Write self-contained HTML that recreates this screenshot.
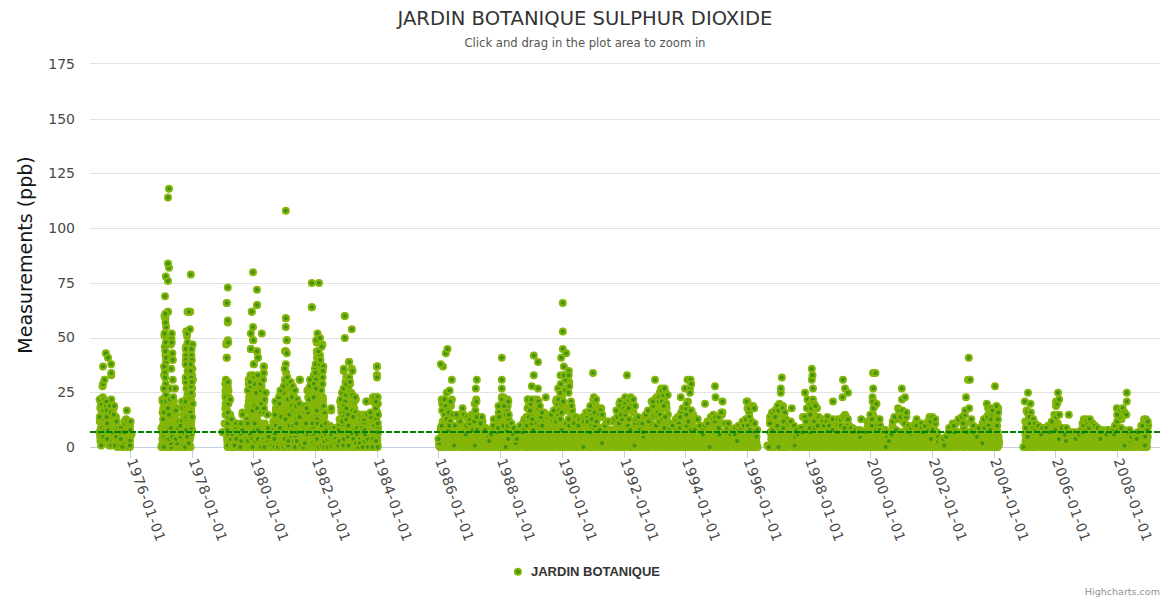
<!DOCTYPE html>
<html lang="en"><head><meta charset="utf-8"><title>JARDIN BOTANIQUE SULPHUR DIOXIDE</title>
<style>html,body{margin:0;padding:0;background:#fff}body{width:1170px;height:600px;overflow:hidden}svg{display:block}text{font-family:'DejaVu Sans','Liberation Sans',sans-serif}</style></head><body>
<svg width="1170" height="600" viewBox="0 0 1170 600">
<rect width="1170" height="600" fill="#fff"/>
<g stroke="#E2E2E2" stroke-width="1" shape-rendering="crispEdges">
<path d="M90 63.5H1160"/>
<path d="M90 119.5H1160"/>
<path d="M90 173.5H1160"/>
<path d="M90 228.5H1160"/>
<path d="M90 283.5H1160"/>
<path d="M90 338.5H1160"/>
<path d="M90 392.5H1160"/>
</g>
<g stroke="#C0D0E0" stroke-width="1" shape-rendering="crispEdges">
<path d="M90 447.5H1160"/>
<path d="M130.5 447.5V457.5"/>
<path d="M192.5 447.5V457.5"/>
<path d="M253.5 447.5V457.5"/>
<path d="M315.5 447.5V457.5"/>
<path d="M377.5 447.5V457.5"/>
<path d="M438.5 447.5V457.5"/>
<path d="M500.5 447.5V457.5"/>
<path d="M562.5 447.5V457.5"/>
<path d="M624.5 447.5V457.5"/>
<path d="M685.5 447.5V457.5"/>
<path d="M747.5 447.5V457.5"/>
<path d="M809.5 447.5V457.5"/>
<path d="M870.5 447.5V457.5"/>
<path d="M932.5 447.5V457.5"/>
<path d="M994.5 447.5V457.5"/>
<path d="M1055.5 447.5V457.5"/>
<path d="M1117.5 447.5V457.5"/>
</g>
<g fill="#3f9214" stroke="#84b509" stroke-width="2">
<path d="M99.8 421.4h0M100.6 430.1h0M101.3 414.8h0M100.1 436.7h0M100.4 441.1h0M103.5 423.6h0M102.7 441.1h0M100.3 408.2h0M100.8 428.0h0M105.9 412.6h0M106.6 441.1h0M102.5 417.0h0M105.3 434.5h0M103.0 438.9h0M106.1 441.1h0M104.8 438.9h0M106.6 434.5h0M110.4 434.5h0M106.1 423.6h0M110.2 438.9h0M110.3 419.2h0M112.4 417.0h0M108.7 443.3h0M109.1 425.8h0M113.2 441.1h0M109.2 417.0h0M113.7 408.2h0M111.3 441.1h0M110.3 423.6h0M110.8 430.1h0M114.4 438.9h0M115.2 436.7h0M112.7 434.5h0M111.8 436.7h0M112.0 428.0h0M113.6 443.3h0M113.0 438.9h0M114.1 421.4h0M112.6 423.6h0M112.3 412.6h0M117.3 441.1h0M115.2 434.5h0M114.2 432.3h0M118.1 436.7h0M116.0 443.3h0M119.3 441.1h0M117.5 446.9h0M116.8 432.3h0M118.3 446.9h0M120.1 434.5h0M117.4 445.5h0M123.0 441.1h0M121.2 443.3h0M122.8 436.7h0M119.5 434.5h0M123.6 428.0h0M125.2 438.9h0M123.5 432.3h0M121.1 436.7h0M128.1 432.3h0M123.0 434.5h0M126.2 443.3h0M126.1 434.5h0M129.8 438.9h0M128.0 423.6h0M126.8 425.8h0M128.8 438.9h0M128.8 425.8h0M129.2 434.5h0M129.4 436.7h0M127.8 445.5h0M131.5 434.5h0M128.4 441.1h0M129.8 446.9h0M161.7 445.5h0M162.3 432.3h0M162.8 425.8h0M162.9 434.5h0M164.1 441.1h0M163.3 408.2h0M164.8 430.1h0M162.7 443.3h0M163.5 443.3h0M165.1 419.2h0M161.5 428.0h0M165.9 419.2h0M165.1 406.0h0M162.4 438.9h0M165.0 423.6h0M163.6 432.3h0M164.6 399.4h0M168.8 419.2h0M167.1 430.1h0M168.7 432.3h0M167.2 446.9h0M164.3 421.4h0M170.0 446.9h0M166.1 445.5h0M168.6 436.7h0M166.4 434.5h0M166.3 425.8h0M171.4 432.3h0M167.7 443.3h0M167.8 414.8h0M168.7 425.8h0M171.8 419.2h0M171.6 423.6h0M171.4 406.0h0M170.7 425.8h0M173.7 443.3h0M171.3 438.9h0M174.8 432.3h0M172.9 410.4h0M173.8 406.0h0M175.1 446.9h0M174.4 421.4h0M172.9 425.8h0M175.5 434.5h0M174.4 446.9h0M173.9 401.6h0M174.3 428.0h0M175.1 441.1h0M172.0 412.6h0M177.4 436.7h0M172.8 436.7h0M176.2 436.7h0M177.7 443.3h0M175.5 421.4h0M177.8 445.5h0M174.1 414.8h0M175.6 414.8h0M174.7 441.1h0M175.0 423.6h0M177.1 430.1h0M180.3 446.9h0M177.7 438.9h0M182.8 432.3h0M177.5 446.9h0M183.5 414.8h0M183.2 441.1h0M181.5 441.1h0M181.7 445.5h0M183.5 436.7h0M182.0 423.6h0M182.5 421.4h0M182.7 446.9h0M182.3 428.0h0M186.7 423.6h0M185.2 438.9h0M185.7 430.1h0M187.3 430.1h0M185.0 445.5h0M188.3 417.0h0M188.6 445.5h0M185.9 412.6h0M187.1 428.0h0M190.1 438.9h0M187.2 443.3h0M185.2 421.4h0M185.5 441.1h0M187.0 446.9h0M189.5 417.0h0M189.6 436.7h0M186.9 434.5h0M190.5 446.9h0M190.5 432.3h0M189.8 445.5h0M190.2 412.6h0M225.2 384.1h0M225.5 390.6h0M222.7 432.3h0M224.6 423.6h0M225.3 408.2h0M227.5 443.3h0M227.1 438.9h0M228.5 390.6h0M226.1 386.3h0M227.1 410.4h0M227.3 441.1h0M227.1 436.7h0M225.6 395.0h0M225.6 403.8h0M227.7 446.9h0M230.8 445.5h0M230.5 425.8h0M230.9 421.4h0M227.8 386.3h0M229.8 443.3h0M230.6 434.5h0M232.7 421.4h0M231.0 446.9h0M230.3 414.8h0M232.3 443.3h0M233.2 428.0h0M232.8 438.9h0M235.0 434.5h0M237.0 446.9h0M235.9 441.1h0M239.3 443.3h0M239.9 445.5h0M237.1 443.3h0M240.8 445.5h0M239.2 441.1h0M238.0 434.5h0M239.9 438.9h0M240.3 434.5h0M243.0 432.3h0M245.6 434.5h0M242.7 446.9h0M242.3 432.3h0M243.6 438.9h0M247.4 445.5h0M245.8 430.1h0M243.3 445.5h0M244.1 443.3h0M245.8 446.9h0M245.0 446.9h0M246.4 443.3h0M245.1 436.7h0M248.7 443.3h0M248.2 406.0h0M250.1 436.7h0M247.3 432.3h0M248.7 384.1h0M250.9 432.3h0M248.5 410.4h0M248.8 401.6h0M248.7 446.9h0M249.1 397.2h0M249.9 421.4h0M248.0 445.5h0M248.5 436.7h0M250.2 428.0h0M250.5 446.9h0M250.5 417.0h0M248.8 425.8h0M250.2 410.4h0M252.9 414.8h0M249.1 432.3h0M250.9 392.8h0M251.1 438.9h0M253.5 421.4h0M250.5 403.8h0M253.1 436.7h0M249.7 381.9h0M251.7 397.2h0M252.5 430.1h0M253.8 434.5h0M251.4 443.3h0M254.5 397.2h0M252.4 395.0h0M252.4 428.0h0M253.2 377.5h0M255.7 436.7h0M255.7 417.0h0M252.9 445.5h0M254.2 388.5h0M255.1 445.5h0M258.1 434.5h0M254.9 401.6h0M252.9 441.1h0M255.7 428.0h0M257.6 443.3h0M257.7 395.0h0M254.1 406.0h0M257.2 401.6h0M258.7 446.9h0M256.9 423.6h0M257.2 419.2h0M256.5 432.3h0M255.6 446.9h0M257.2 436.7h0M258.7 384.1h0M259.4 443.3h0M261.7 436.7h0M260.3 436.7h0M261.1 430.1h0M257.0 414.8h0M261.1 423.6h0M259.6 428.0h0M261.8 397.2h0M259.5 397.2h0M259.7 401.6h0M261.0 406.0h0M263.5 445.5h0M262.1 430.1h0M264.8 423.6h0M260.0 438.9h0M261.8 412.6h0M261.3 401.6h0M264.1 401.6h0M262.4 410.4h0M264.4 434.5h0M262.2 432.3h0M264.8 432.3h0M267.4 446.9h0M263.4 425.8h0M266.9 443.3h0M264.8 428.0h0M267.6 432.3h0M271.2 441.1h0M271.0 446.9h0M266.7 441.1h0M270.4 432.3h0M268.5 446.9h0M273.3 421.4h0M273.6 425.8h0M274.6 432.3h0M271.8 436.7h0M275.6 430.1h0M271.8 432.3h0M273.2 443.3h0M278.1 414.8h0M276.4 412.6h0M275.9 436.7h0M275.5 443.3h0M275.9 408.2h0M276.8 446.9h0M275.9 410.4h0M278.1 441.1h0M275.6 417.0h0M278.5 432.3h0M279.5 410.4h0M276.9 434.5h0M279.4 434.5h0M275.7 421.4h0M281.3 438.9h0M281.8 395.0h0M280.9 421.4h0M281.4 434.5h0M282.9 423.6h0M283.3 401.6h0M282.9 412.6h0M279.0 443.3h0M280.2 406.0h0M279.5 438.9h0M284.2 395.0h0M279.8 410.4h0M279.6 425.8h0M285.1 446.9h0M284.2 408.2h0M283.0 434.5h0M282.1 438.9h0M281.4 432.3h0M280.8 399.4h0M282.7 403.8h0M285.2 436.7h0M284.8 388.5h0M281.4 446.9h0M281.9 441.1h0M284.6 423.6h0M284.0 443.3h0M285.2 412.6h0M284.7 428.0h0M286.5 399.4h0M284.1 417.0h0M287.9 419.2h0M286.1 432.3h0M286.5 406.0h0M285.1 430.1h0M284.6 392.8h0M286.1 443.3h0M286.9 425.8h0M285.2 384.1h0M286.1 373.1h0M289.3 432.3h0M287.2 438.9h0M291.1 438.9h0M291.8 401.6h0M292.7 392.8h0M288.4 412.6h0M287.8 432.3h0M287.5 406.0h0M289.1 421.4h0M290.5 408.2h0M290.3 390.6h0M288.1 390.6h0M293.2 445.5h0M288.6 436.7h0M289.9 443.3h0M289.9 403.8h0M291.5 436.7h0M293.9 432.3h0M294.1 397.2h0M293.3 446.9h0M294.8 430.1h0M292.2 441.1h0M292.1 390.6h0M293.1 414.8h0M295.5 419.2h0M292.4 419.2h0M298.2 421.4h0M294.9 412.6h0M293.7 443.3h0M294.2 425.8h0M296.4 446.9h0M299.4 425.8h0M300.3 446.9h0M300.1 438.9h0M301.0 428.0h0M300.2 443.3h0M297.5 412.6h0M296.5 438.9h0M299.4 432.3h0M300.6 432.3h0M300.9 441.1h0M299.4 410.4h0M303.8 438.9h0M304.3 436.7h0M301.5 436.7h0M305.8 446.9h0M302.6 446.9h0M301.6 423.6h0M304.1 419.2h0M301.8 419.2h0M305.3 438.9h0M303.2 430.1h0M306.7 436.7h0M307.8 406.0h0M306.7 430.1h0M309.2 441.1h0M308.2 432.3h0M307.8 419.2h0M305.7 419.2h0M309.2 436.7h0M306.2 428.0h0M306.1 414.8h0M307.6 423.6h0M308.2 397.2h0M306.9 445.5h0M310.4 417.0h0M310.4 401.6h0M311.6 423.6h0M310.5 410.4h0M307.1 434.5h0M311.7 436.7h0M312.7 446.9h0M308.6 445.5h0M307.4 430.1h0M311.3 438.9h0M308.9 446.9h0M313.3 417.0h0M311.2 406.0h0M309.3 438.9h0M314.5 377.5h0M313.9 399.4h0M311.3 395.0h0M312.1 386.3h0M314.4 432.3h0M312.0 408.2h0M314.4 438.9h0M310.8 446.9h0M314.8 408.2h0M314.9 403.8h0M313.3 379.7h0M313.1 392.8h0M312.3 412.6h0M315.5 423.6h0M317.5 364.3h0M314.1 438.9h0M312.4 406.0h0M315.6 395.0h0M318.1 370.9h0M317.5 432.3h0M313.7 434.5h0M316.7 412.6h0M317.4 375.3h0M318.0 379.7h0M318.1 428.0h0M319.7 417.0h0M319.1 392.8h0M314.8 446.9h0M317.8 406.0h0M317.7 392.8h0M320.2 401.6h0M316.7 399.4h0M319.6 432.3h0M315.5 401.6h0M315.3 412.6h0M319.6 368.7h0M315.9 430.1h0M317.0 357.7h0M320.2 377.5h0M318.1 443.3h0M320.4 423.6h0M316.6 388.5h0M320.8 438.9h0M323.0 414.8h0M319.4 388.5h0M323.9 421.4h0M320.5 430.1h0M319.3 395.0h0M322.6 419.2h0M319.3 445.5h0M319.7 443.3h0M324.3 443.3h0M320.8 384.1h0M322.9 432.3h0M320.4 428.0h0M323.1 399.4h0M324.2 438.9h0M326.3 445.5h0M325.2 434.5h0M322.8 446.9h0M324.2 417.0h0M322.8 397.2h0M322.9 441.1h0M323.8 445.5h0M327.6 443.3h0M324.7 436.7h0M330.0 441.1h0M328.6 443.3h0M328.6 446.9h0M333.5 438.9h0M331.9 446.9h0M329.6 428.0h0M331.5 441.1h0M334.6 446.9h0M332.0 438.9h0M334.0 434.5h0M339.6 419.2h0M335.7 446.9h0M339.3 436.7h0M336.5 434.5h0M340.2 434.5h0M338.9 446.9h0M339.9 425.8h0M342.2 436.7h0M338.1 434.5h0M340.9 406.0h0M342.6 403.8h0M342.0 441.1h0M345.0 445.5h0M343.7 397.2h0M341.0 432.3h0M341.6 446.9h0M341.5 445.5h0M340.4 441.1h0M341.2 410.4h0M345.7 421.4h0M346.2 446.9h0M344.5 436.7h0M341.5 438.9h0M345.5 432.3h0M347.5 446.9h0M344.0 430.1h0M348.4 438.9h0M347.3 379.7h0M349.3 399.4h0M344.4 438.9h0M348.2 443.3h0M347.6 408.2h0M346.3 425.8h0M351.3 399.4h0M347.3 397.2h0M349.1 419.2h0M350.2 432.3h0M350.0 446.9h0M350.9 421.4h0M351.9 443.3h0M349.0 445.5h0M349.0 425.8h0M348.2 421.4h0M352.8 406.0h0M354.0 410.4h0M350.0 384.1h0M350.7 417.0h0M351.7 421.4h0M353.0 428.0h0M350.0 406.0h0M354.7 436.7h0M351.5 425.8h0M351.7 446.9h0M351.9 430.1h0M349.6 423.6h0M354.2 408.2h0M350.7 410.4h0M353.8 446.9h0M354.7 443.3h0M354.1 434.5h0M353.1 432.3h0M357.8 414.8h0M356.3 432.3h0M354.1 423.6h0M353.4 419.2h0M359.1 421.4h0M355.9 446.9h0M356.7 421.4h0M359.3 425.8h0M358.6 432.3h0M361.7 423.6h0M362.6 443.3h0M357.3 438.9h0M360.3 441.1h0M362.0 445.5h0M360.4 438.9h0M362.2 446.9h0M364.7 434.5h0M365.3 443.3h0M362.1 436.7h0M366.4 441.1h0M365.4 446.9h0M367.2 432.3h0M368.6 443.3h0M366.2 425.8h0M365.7 445.5h0M365.6 430.1h0M370.3 446.9h0M368.9 436.7h0M370.7 441.1h0M372.7 428.0h0M368.3 425.8h0M371.1 434.5h0M371.0 436.7h0M372.5 414.8h0M369.9 423.6h0M372.9 443.3h0M374.4 445.5h0M374.5 441.1h0M370.7 445.5h0M370.8 430.1h0M371.5 425.8h0M372.9 432.3h0M372.0 436.7h0M374.8 421.4h0M377.0 446.9h0M377.7 445.5h0M375.6 417.0h0M377.3 436.7h0M374.7 446.9h0M377.4 441.1h0M373.7 421.4h0M376.0 406.0h0M374.4 438.9h0M377.5 434.5h0M439.2 445.5h0M440.8 446.9h0M440.7 430.1h0M441.4 443.3h0M440.8 428.0h0M439.7 446.9h0M441.8 438.9h0M441.1 436.7h0M442.5 441.1h0M443.4 436.7h0M445.0 430.1h0M443.2 434.5h0M445.5 446.9h0M442.7 421.4h0M443.4 441.1h0M445.6 412.6h0M445.4 428.0h0M445.5 443.3h0M444.3 446.9h0M442.8 432.3h0M444.9 438.9h0M445.4 436.7h0M447.3 441.1h0M446.1 430.1h0M443.4 445.5h0M449.4 446.9h0M445.1 428.0h0M449.1 434.5h0M449.7 438.9h0M447.1 434.5h0M450.9 406.0h0M453.2 441.1h0M452.7 446.9h0M450.2 436.7h0M448.9 445.5h0M450.3 430.1h0M451.8 441.1h0M449.7 441.1h0M454.5 446.9h0M450.3 443.3h0M455.0 438.9h0M451.4 446.9h0M450.7 403.8h0M452.9 432.3h0M456.1 441.1h0M451.6 432.3h0M452.4 436.7h0M457.2 428.0h0M455.5 432.3h0M452.8 438.9h0M458.4 445.5h0M456.4 445.5h0M459.7 423.6h0M459.6 441.1h0M457.3 434.5h0M460.5 446.9h0M456.0 436.7h0M457.6 443.3h0M459.0 446.9h0M456.8 438.9h0M460.7 430.1h0M462.9 430.1h0M460.9 436.7h0M458.7 432.3h0M462.5 438.9h0M464.0 446.9h0M460.8 445.5h0M464.0 441.1h0M463.7 432.3h0M460.3 434.5h0M465.5 425.8h0M467.0 434.5h0M465.4 445.5h0M462.8 446.9h0M464.3 438.9h0M463.6 434.5h0M463.2 443.3h0M467.9 419.2h0M467.0 446.9h0M469.4 438.9h0M467.2 441.1h0M466.0 445.5h0M467.1 438.9h0M471.7 432.3h0M470.5 434.5h0M467.1 432.3h0M469.7 445.5h0M470.3 430.1h0M473.8 441.1h0M468.4 443.3h0M474.4 438.9h0M471.3 446.9h0M473.6 446.9h0M470.2 446.9h0M474.9 443.3h0M471.3 443.3h0M471.7 434.5h0M475.2 432.3h0M475.4 446.9h0M472.0 438.9h0M475.6 438.9h0M474.3 434.5h0M474.8 428.0h0M475.7 436.7h0M477.1 445.5h0M478.1 445.5h0M478.8 428.0h0M479.6 430.1h0M480.4 436.7h0M479.2 441.1h0M479.6 434.5h0M476.9 441.1h0M480.3 430.1h0M479.6 436.7h0M478.2 446.9h0M480.1 446.9h0M478.5 432.3h0M479.3 438.9h0M484.1 428.0h0M481.3 434.5h0M483.8 443.3h0M481.8 438.9h0M484.9 446.9h0M483.1 436.7h0M481.5 443.3h0M482.3 446.9h0M483.4 432.3h0M482.7 438.9h0M486.8 446.9h0M486.1 443.3h0M486.2 434.5h0M485.7 438.9h0M490.3 443.3h0M487.8 443.3h0M493.8 441.1h0M489.3 446.9h0M493.4 441.1h0M492.2 443.3h0M492.5 438.9h0M494.7 445.5h0M493.4 436.7h0M494.2 443.3h0M491.4 430.1h0M496.6 446.9h0M495.1 434.5h0M492.2 434.5h0M491.7 446.9h0M493.7 428.0h0M496.0 445.5h0M496.8 443.3h0M494.1 446.9h0M496.4 430.1h0M496.9 436.7h0M494.9 438.9h0M495.3 430.1h0M500.5 419.2h0M499.3 434.5h0M496.9 438.9h0M500.8 443.3h0M498.5 430.1h0M497.5 434.5h0M495.9 421.4h0M499.9 436.7h0M498.3 443.3h0M502.8 403.8h0M502.3 445.5h0M500.9 428.0h0M498.8 446.9h0M502.4 425.8h0M503.7 428.0h0M499.2 432.3h0M503.1 432.3h0M498.8 438.9h0M501.5 441.1h0M504.4 434.5h0M503.0 399.4h0M501.3 434.5h0M501.3 430.1h0M501.2 446.9h0M500.5 438.9h0M504.1 430.1h0M503.1 419.2h0M504.6 436.7h0M503.7 438.9h0M504.6 441.1h0M507.1 434.5h0M505.2 441.1h0M505.4 443.3h0M505.2 421.4h0M507.2 428.0h0M504.5 445.5h0M503.7 443.3h0M503.3 446.9h0M504.7 412.6h0M506.5 436.7h0M508.5 445.5h0M511.9 430.1h0M509.6 446.9h0M508.7 436.7h0M507.9 443.3h0M509.9 446.9h0M508.5 432.3h0M513.6 446.9h0M510.1 441.1h0M510.3 443.3h0M511.2 436.7h0M513.3 436.7h0M511.8 432.3h0M513.3 443.3h0M513.7 441.1h0M515.1 446.9h0M513.0 445.5h0M518.4 445.5h0M520.4 430.1h0M517.3 443.3h0M519.1 446.9h0M517.0 446.9h0M520.0 428.0h0M519.7 438.9h0M522.5 428.0h0M521.6 441.1h0M521.8 445.5h0M521.4 436.7h0M519.7 434.5h0M524.1 445.5h0M523.5 434.5h0M524.2 432.3h0M520.4 443.3h0M524.6 443.3h0M523.3 446.9h0M526.3 438.9h0M524.7 446.9h0M522.8 430.1h0M527.6 446.9h0M525.4 436.7h0M526.5 443.3h0M527.8 441.1h0M526.8 436.7h0M525.9 432.3h0M529.9 441.1h0M528.5 406.0h0M525.0 441.1h0M528.4 445.5h0M529.0 430.1h0M527.1 434.5h0M530.6 438.9h0M528.9 432.3h0M530.1 423.6h0M528.7 436.7h0M529.5 419.2h0M529.3 446.9h0M531.9 445.5h0M531.1 434.5h0M533.5 410.4h0M531.6 446.9h0M534.2 417.0h0M534.2 438.9h0M534.4 446.9h0M532.1 428.0h0M535.7 446.9h0M532.4 410.4h0M531.8 430.1h0M532.3 441.1h0M536.4 436.7h0M536.2 441.1h0M537.8 421.4h0M534.0 434.5h0M538.0 436.7h0M536.6 432.3h0M538.5 441.1h0M534.0 443.3h0M536.5 414.8h0M537.0 430.1h0M537.1 445.5h0M538.0 432.3h0M537.7 443.3h0M542.2 446.9h0M537.6 434.5h0M542.8 434.5h0M540.7 436.7h0M541.0 434.5h0M541.2 430.1h0M538.6 445.5h0M539.0 446.9h0M543.3 414.8h0M544.6 445.5h0M539.8 445.5h0M545.4 443.3h0M543.2 445.5h0M540.3 441.1h0M541.2 432.3h0M540.9 446.9h0M542.4 438.9h0M547.4 445.5h0M545.7 432.3h0M544.9 446.9h0M544.9 430.1h0M543.5 443.3h0M547.3 441.1h0M544.8 421.4h0M546.7 436.7h0M545.3 428.0h0M543.9 432.3h0M546.6 432.3h0M547.7 446.9h0M548.0 434.5h0M544.9 441.1h0M547.3 428.0h0M549.9 441.1h0M550.6 434.5h0M550.7 425.8h0M546.2 436.7h0M550.6 430.1h0M550.2 438.9h0M550.3 443.3h0M550.9 446.9h0M553.1 421.4h0M552.7 445.5h0M549.9 432.3h0M551.4 441.1h0M555.2 438.9h0M552.6 438.9h0M556.0 445.5h0M553.4 443.3h0M551.5 432.3h0M554.6 436.7h0M553.7 446.9h0M554.6 428.0h0M552.7 446.9h0M551.9 436.7h0M556.7 408.2h0M556.5 434.5h0M557.0 428.0h0M553.1 430.1h0M557.3 432.3h0M553.7 434.5h0M554.9 432.3h0M556.4 414.8h0M558.9 441.1h0M558.8 436.7h0M561.0 434.5h0M557.0 443.3h0M557.7 446.9h0M557.9 438.9h0M560.0 446.9h0M562.7 445.5h0M559.3 434.5h0M560.6 436.7h0M562.5 423.6h0M558.1 445.5h0M558.2 430.1h0M562.0 438.9h0M563.1 434.5h0M561.5 445.5h0M561.5 443.3h0M563.4 425.8h0M565.7 430.1h0M562.1 441.1h0M562.6 446.9h0M564.9 446.9h0M563.1 441.1h0M561.6 446.9h0M564.6 438.9h0M563.9 406.0h0M565.4 428.0h0M566.8 434.5h0M566.8 438.9h0M567.3 430.1h0M565.6 410.4h0M564.0 388.5h0M567.9 438.9h0M565.1 443.3h0M563.6 430.1h0M567.2 388.5h0M567.8 443.3h0M567.5 446.9h0M565.6 441.1h0M569.4 441.1h0M569.3 432.3h0M568.4 445.5h0M567.9 434.5h0M570.3 428.0h0M568.2 436.7h0M570.5 446.9h0M572.5 438.9h0M570.9 423.6h0M572.2 446.9h0M570.8 434.5h0M570.7 438.9h0M570.4 432.3h0M569.3 408.2h0M572.4 441.1h0M572.7 430.1h0M569.2 381.9h0M570.8 417.0h0M571.5 443.3h0M570.2 436.7h0M573.3 434.5h0M571.1 445.5h0M574.4 446.9h0M575.4 428.0h0M570.8 441.1h0M575.3 432.3h0M572.6 432.3h0M575.2 443.3h0M573.2 445.5h0M575.1 438.9h0M574.7 436.7h0M577.4 446.9h0M572.8 443.3h0M578.3 443.3h0M576.5 441.1h0M581.7 432.3h0M578.3 436.7h0M579.9 443.3h0M583.2 436.7h0M581.9 446.9h0M577.8 432.3h0M578.8 438.9h0M579.8 430.1h0M581.2 441.1h0M580.3 434.5h0M580.4 446.9h0M580.5 432.3h0M582.5 445.5h0M584.1 434.5h0M585.9 445.5h0M581.3 428.0h0M581.1 430.1h0M586.7 428.0h0M584.7 428.0h0M584.9 443.3h0M582.2 438.9h0M586.0 434.5h0M583.6 432.3h0M584.9 438.9h0M588.3 446.9h0M587.2 446.9h0M587.2 436.7h0M588.3 445.5h0M589.3 443.3h0M589.4 430.1h0M591.3 443.3h0M588.2 438.9h0M588.5 421.4h0M588.4 428.0h0M587.4 441.1h0M590.0 434.5h0M591.0 446.9h0M590.6 438.9h0M592.9 436.7h0M590.8 412.6h0M590.5 434.5h0M592.9 441.1h0M592.8 432.3h0M593.0 445.5h0M595.9 438.9h0M593.6 446.9h0M596.5 432.3h0M596.6 410.4h0M592.8 421.4h0M596.1 428.0h0M593.6 438.9h0M592.9 443.3h0M595.5 417.0h0M595.2 446.9h0M598.9 438.9h0M596.6 443.3h0M600.4 436.7h0M599.2 443.3h0M595.3 403.8h0M595.5 430.1h0M600.3 434.5h0M599.0 441.1h0M599.2 445.5h0M600.7 414.8h0M598.4 436.7h0M596.5 436.7h0M600.0 446.9h0M598.9 432.3h0M599.2 446.9h0M601.3 445.5h0M603.9 434.5h0M602.6 430.1h0M602.7 445.5h0M603.8 432.3h0M599.9 441.1h0M605.4 432.3h0M603.5 436.7h0M602.2 417.0h0M604.1 445.5h0M606.9 441.1h0M607.6 432.3h0M607.9 438.9h0M602.3 446.9h0M606.4 434.5h0M604.8 443.3h0M602.9 438.9h0M609.0 443.3h0M608.7 446.9h0M606.9 445.5h0M604.8 428.0h0M605.1 434.5h0M606.0 438.9h0M605.5 446.9h0M609.4 430.1h0M611.0 446.9h0M609.0 438.9h0M612.0 443.3h0M607.2 446.9h0M611.6 430.1h0M613.5 430.1h0M611.9 434.5h0M613.2 434.5h0M609.7 434.5h0M611.3 445.5h0M612.9 438.9h0M615.1 446.9h0M616.0 436.7h0M617.4 446.9h0M618.8 436.7h0M616.0 441.1h0M617.1 423.6h0M618.6 417.0h0M616.0 430.1h0M615.5 434.5h0M614.5 441.1h0M617.2 445.5h0M619.1 443.3h0M618.8 432.3h0M614.7 436.7h0M615.4 445.5h0M619.9 438.9h0M620.5 443.3h0M620.3 432.3h0M621.6 436.7h0M619.0 446.9h0M622.5 423.6h0M617.5 432.3h0M622.6 434.5h0M621.1 441.1h0M620.7 445.5h0M624.1 428.0h0M620.4 434.5h0M625.2 432.3h0M620.8 430.1h0M624.5 441.1h0M623.6 445.5h0M621.7 446.9h0M623.1 438.9h0M625.5 434.5h0M623.3 446.9h0M627.9 441.1h0M624.8 446.9h0M624.3 432.3h0M626.3 445.5h0M628.2 436.7h0M624.3 430.1h0M629.1 432.3h0M626.0 438.9h0M628.0 445.5h0M625.1 441.1h0M626.1 428.0h0M630.0 445.5h0M630.6 428.0h0M626.0 443.3h0M629.5 434.5h0M629.5 438.9h0M628.7 434.5h0M629.5 446.9h0M632.6 438.9h0M630.0 441.1h0M629.1 446.9h0M632.3 434.5h0M632.3 430.1h0M630.4 443.3h0M634.4 438.9h0M631.2 436.7h0M635.9 441.1h0M633.3 443.3h0M633.5 412.6h0M636.4 445.5h0M633.0 441.1h0M632.2 446.9h0M635.9 432.3h0M637.6 428.0h0M636.0 436.7h0M633.8 445.5h0M637.4 446.9h0M637.1 438.9h0M636.1 446.9h0M636.0 428.0h0M641.6 443.3h0M636.4 434.5h0M640.6 438.9h0M640.3 443.3h0M640.1 434.5h0M641.1 446.9h0M637.8 430.1h0M640.3 441.1h0M637.8 441.1h0M643.3 446.9h0M643.9 438.9h0M641.3 436.7h0M640.4 446.9h0M640.8 438.9h0M642.2 434.5h0M643.6 432.3h0M641.1 441.1h0M647.3 434.5h0M647.5 436.7h0M647.0 428.0h0M643.7 434.5h0M644.1 443.3h0M645.9 441.1h0M649.1 434.5h0M647.3 445.5h0M645.6 446.9h0M648.1 446.9h0M648.5 445.5h0M645.6 421.4h0M648.8 432.3h0M651.1 428.0h0M649.5 436.7h0M650.7 443.3h0M648.1 414.8h0M649.3 441.1h0M650.8 446.9h0M647.3 432.3h0M648.9 428.0h0M651.8 434.5h0M650.5 441.1h0M654.6 430.1h0M654.1 445.5h0M654.8 399.4h0M653.6 428.0h0M652.6 432.3h0M655.1 410.4h0M651.4 430.1h0M655.0 403.8h0M652.2 438.9h0M652.5 441.1h0M657.4 443.3h0M654.3 446.9h0M657.8 432.3h0M659.0 443.3h0M656.7 438.9h0M656.7 446.9h0M656.0 436.7h0M654.4 436.7h0M655.1 443.3h0M659.6 438.9h0M660.0 436.7h0M660.4 441.1h0M659.7 446.9h0M659.5 443.3h0M656.1 432.3h0M659.9 432.3h0M658.1 441.1h0M660.0 445.5h0M660.9 445.5h0M658.3 436.7h0M660.5 441.1h0M662.2 438.9h0M663.5 436.7h0M658.6 445.5h0M664.0 434.5h0M662.7 443.3h0M662.2 417.0h0M659.9 412.6h0M659.0 446.9h0M658.8 446.9h0M662.6 445.5h0M663.1 417.0h0M660.5 436.7h0M661.8 423.6h0M661.7 443.3h0M664.1 428.0h0M664.0 438.9h0M663.9 446.9h0M664.6 434.5h0M663.2 446.9h0M660.9 432.3h0M662.0 438.9h0M660.7 428.0h0M661.7 434.5h0M663.1 430.1h0M666.3 441.1h0M663.9 446.9h0M666.2 436.7h0M663.2 434.5h0M663.2 428.0h0M661.6 441.1h0M663.5 446.9h0M668.2 441.1h0M664.0 443.3h0M664.8 438.9h0M665.3 443.3h0M664.9 425.8h0M665.2 432.3h0M666.2 446.9h0M667.1 445.5h0M666.9 443.3h0M667.2 430.1h0M666.6 408.2h0M666.8 434.5h0M667.2 434.5h0M665.8 436.7h0M665.5 436.7h0M668.5 441.1h0M667.9 438.9h0M670.6 438.9h0M666.8 445.5h0M666.5 417.0h0M667.1 423.6h0M668.0 446.9h0M670.8 434.5h0M672.5 443.3h0M671.2 446.9h0M667.4 438.9h0M669.1 430.1h0M668.8 446.9h0M669.8 438.9h0M670.7 436.7h0M674.5 445.5h0M670.3 434.5h0M669.0 445.5h0M672.5 432.3h0M674.0 441.1h0M674.1 434.5h0M673.9 446.9h0M673.6 436.7h0M671.2 445.5h0M675.8 436.7h0M672.7 432.3h0M675.7 446.9h0M676.2 445.5h0M678.1 441.1h0M677.4 446.9h0M676.2 421.4h0M678.6 445.5h0M678.5 432.3h0M680.5 446.9h0M680.6 441.1h0M675.8 441.1h0M676.7 432.3h0M680.8 434.5h0M677.5 434.5h0M682.5 434.5h0M682.6 432.3h0M678.3 436.7h0M681.3 438.9h0M683.6 445.5h0M679.7 436.7h0M679.2 443.3h0M680.9 443.3h0M683.4 443.3h0M678.9 438.9h0M684.0 421.4h0M681.8 414.8h0M684.4 434.5h0M683.2 446.9h0M685.8 432.3h0M685.8 428.0h0M683.7 441.1h0M683.6 438.9h0M686.3 446.9h0M687.9 414.8h0M688.1 438.9h0M685.8 436.7h0M685.0 443.3h0M690.6 438.9h0M687.5 436.7h0M690.8 441.1h0M686.9 443.3h0M685.6 441.1h0M688.5 432.3h0M687.3 441.1h0M689.7 446.9h0M688.3 446.9h0M690.3 432.3h0M692.3 428.0h0M689.3 434.5h0M692.5 438.9h0M693.2 414.8h0M691.4 436.7h0M691.9 446.9h0M693.2 443.3h0M690.3 445.5h0M694.9 438.9h0M696.4 438.9h0M695.0 446.9h0M691.2 432.3h0M695.6 443.3h0M697.6 434.5h0M692.4 421.4h0M698.4 446.9h0M698.8 436.7h0M697.8 430.1h0M694.5 434.5h0M696.6 441.1h0M695.2 436.7h0M698.3 443.3h0M695.8 445.5h0M699.3 445.5h0M701.2 443.3h0M698.6 441.1h0M697.9 446.9h0M699.6 432.3h0M703.1 441.1h0M704.6 445.5h0M703.7 438.9h0M702.0 445.5h0M703.5 436.7h0M700.5 441.1h0M705.9 438.9h0M702.1 436.7h0M701.8 446.9h0M703.5 446.9h0M705.8 445.5h0M705.5 446.9h0M703.3 443.3h0M706.4 443.3h0M705.4 434.5h0M705.8 432.3h0M708.7 432.3h0M710.9 436.7h0M707.3 446.9h0M707.3 441.1h0M705.9 436.7h0M707.4 434.5h0M711.4 441.1h0M711.0 445.5h0M708.4 436.7h0M713.1 434.5h0M709.8 443.3h0M709.2 445.5h0M711.8 430.1h0M709.5 432.3h0M713.3 446.9h0M712.6 443.3h0M711.0 423.6h0M713.2 441.1h0M711.1 434.5h0M715.8 434.5h0M717.1 443.3h0M712.4 436.7h0M714.6 432.3h0M715.6 443.3h0M715.6 438.9h0M719.0 421.4h0M714.2 446.9h0M718.0 432.3h0M716.8 446.9h0M717.4 438.9h0M721.1 436.7h0M718.7 443.3h0M721.8 446.9h0M719.5 432.3h0M723.2 445.5h0M718.3 434.5h0M720.1 438.9h0M719.6 423.6h0M719.4 436.7h0M722.3 434.5h0M720.0 446.9h0M722.8 438.9h0M724.3 445.5h0M724.1 446.9h0M726.8 436.7h0M722.7 443.3h0M723.3 443.3h0M724.8 436.7h0M725.3 441.1h0M724.0 432.3h0M726.3 432.3h0M728.0 443.3h0M726.4 443.3h0M725.8 438.9h0M729.9 441.1h0M728.5 434.5h0M729.4 436.7h0M731.6 445.5h0M727.0 446.9h0M730.8 446.9h0M729.9 446.9h0M732.0 436.7h0M734.6 436.7h0M735.2 434.5h0M734.4 446.9h0M731.7 441.1h0M736.6 441.1h0M733.2 443.3h0M734.0 438.9h0M737.6 434.5h0M738.4 446.9h0M736.0 443.3h0M735.5 446.9h0M735.2 445.5h0M736.8 438.9h0M739.5 446.9h0M738.3 438.9h0M735.9 436.7h0M738.4 436.7h0M739.7 443.3h0M737.8 443.3h0M738.6 445.5h0M744.4 436.7h0M741.5 438.9h0M743.4 430.1h0M739.9 434.5h0M742.3 446.9h0M743.1 443.3h0M744.2 438.9h0M742.2 438.9h0M743.0 445.5h0M742.1 434.5h0M745.8 446.9h0M747.9 436.7h0M747.1 445.5h0M746.4 446.9h0M747.6 441.1h0M745.7 421.4h0M745.0 443.3h0M749.5 438.9h0M746.0 432.3h0M748.0 434.5h0M748.7 434.5h0M748.3 419.2h0M751.5 441.1h0M752.2 436.7h0M750.8 432.3h0M749.7 443.3h0M751.6 445.5h0M748.8 441.1h0M751.9 434.5h0M749.5 436.7h0M753.6 443.3h0M751.2 438.9h0M752.7 446.9h0M749.6 446.9h0M754.3 446.9h0M756.1 438.9h0M754.2 436.7h0M754.8 445.5h0M755.2 438.9h0M757.6 446.9h0M756.6 443.3h0M771.0 446.9h0M773.0 446.9h0M773.1 443.3h0M772.6 434.5h0M772.5 438.9h0M771.3 438.9h0M770.3 432.3h0M774.4 432.3h0M771.8 443.3h0M775.8 438.9h0M771.5 436.7h0M774.7 446.9h0M773.3 445.5h0M776.6 438.9h0M775.8 421.4h0M775.6 445.5h0M775.2 436.7h0M777.4 443.3h0M775.7 443.3h0M776.4 434.5h0M780.8 410.4h0M780.1 443.3h0M776.9 423.6h0M781.1 406.0h0M777.2 434.5h0M781.2 436.7h0M781.4 432.3h0M782.9 423.6h0M782.7 410.4h0M782.1 441.1h0M782.1 445.5h0M784.1 441.1h0M778.5 432.3h0M780.2 434.5h0M780.9 441.1h0M780.3 438.9h0M784.2 417.0h0M781.5 414.8h0M780.9 446.9h0M782.9 446.9h0M783.6 445.5h0M784.8 436.7h0M783.5 438.9h0M784.3 446.9h0M785.6 432.3h0M788.4 446.9h0M787.8 432.3h0M787.2 441.1h0M787.0 445.5h0M789.8 445.5h0M788.7 434.5h0M787.0 446.9h0M786.5 438.9h0M790.1 430.1h0M790.4 432.3h0M787.1 436.7h0M789.7 441.1h0M789.9 438.9h0M792.4 446.9h0M793.2 441.1h0M793.0 432.3h0M794.5 434.5h0M791.3 443.3h0M792.9 446.9h0M790.8 441.1h0M791.5 436.7h0M796.4 445.5h0M796.0 441.1h0M794.8 438.9h0M795.3 446.9h0M798.3 443.3h0M797.8 446.9h0M799.3 436.7h0M796.3 443.3h0M800.5 434.5h0M800.8 445.5h0M799.1 438.9h0M800.1 441.1h0M798.2 445.5h0M802.4 441.1h0M801.2 443.3h0M803.0 438.9h0M799.7 438.9h0M799.9 446.9h0M803.3 445.5h0M802.9 436.7h0M805.5 432.3h0M805.6 434.5h0M802.3 446.9h0M803.3 428.0h0M804.8 436.7h0M804.2 441.1h0M806.0 443.3h0M808.6 432.3h0M807.2 441.1h0M806.6 446.9h0M805.4 446.9h0M808.7 445.5h0M807.8 434.5h0M808.9 421.4h0M807.0 436.7h0M809.6 446.9h0M807.5 417.0h0M809.2 438.9h0M807.6 438.9h0M812.1 446.9h0M809.3 436.7h0M809.4 434.5h0M813.4 412.6h0M812.5 445.5h0M812.8 441.1h0M814.2 445.5h0M813.0 436.7h0M809.8 443.3h0M814.9 441.1h0M810.8 417.0h0M812.6 443.3h0M812.5 414.8h0M814.8 434.5h0M816.5 432.3h0M813.1 432.3h0M815.4 438.9h0M818.2 441.1h0M815.1 430.1h0M819.0 446.9h0M816.6 441.1h0M818.4 438.9h0M815.5 446.9h0M818.6 434.5h0M818.5 445.5h0M816.3 443.3h0M818.3 436.7h0M817.5 436.7h0M819.6 432.3h0M816.8 446.9h0M822.0 445.5h0M819.9 443.3h0M822.4 446.9h0M820.5 432.3h0M822.2 423.6h0M821.9 438.9h0M820.5 434.5h0M824.1 434.5h0M824.5 438.9h0M822.9 441.1h0M823.7 443.3h0M824.1 446.9h0M821.8 443.3h0M825.8 432.3h0M824.9 434.5h0M825.0 446.9h0M826.8 445.5h0M825.1 441.1h0M827.6 441.1h0M825.0 438.9h0M827.4 434.5h0M829.8 441.1h0M827.7 436.7h0M828.6 446.9h0M830.4 446.9h0M828.3 445.5h0M830.2 432.3h0M829.5 445.5h0M832.9 434.5h0M829.6 443.3h0M829.8 430.1h0M833.0 441.1h0M832.1 436.7h0M835.0 441.1h0M831.9 443.3h0M831.6 436.7h0M833.7 446.9h0M836.1 436.7h0M834.9 428.0h0M836.4 445.5h0M835.7 432.3h0M838.0 434.5h0M835.4 446.9h0M835.7 445.5h0M836.5 443.3h0M839.7 432.3h0M839.1 446.9h0M841.4 436.7h0M840.0 443.3h0M839.3 436.7h0M838.5 446.9h0M842.5 441.1h0M842.0 446.9h0M842.5 430.1h0M838.5 438.9h0M841.0 445.5h0M839.2 438.9h0M840.6 445.5h0M844.4 438.9h0M845.2 436.7h0M846.7 436.7h0M845.1 443.3h0M842.2 434.5h0M846.4 446.9h0M843.5 432.3h0M847.5 434.5h0M846.8 443.3h0M846.2 430.1h0M846.9 438.9h0M845.2 446.9h0M849.8 436.7h0M848.1 438.9h0M848.2 445.5h0M849.6 441.1h0M848.6 446.9h0M850.9 438.9h0M848.2 432.3h0M853.4 434.5h0M852.1 441.1h0M852.8 445.5h0M851.9 446.9h0M851.9 443.3h0M852.0 434.5h0M853.1 436.7h0M855.7 443.3h0M853.9 446.9h0M855.6 438.9h0M856.5 446.9h0M857.4 446.9h0M854.1 441.1h0M859.1 445.5h0M859.1 438.9h0M859.7 438.9h0M861.1 443.3h0M859.1 441.1h0M860.6 445.5h0M863.0 445.5h0M864.1 445.5h0M864.2 446.9h0M863.1 441.1h0M861.0 446.9h0M867.1 446.9h0M862.7 438.9h0M862.4 446.9h0M866.2 443.3h0M863.7 436.7h0M865.8 438.9h0M867.2 428.0h0M867.4 432.3h0M866.8 443.3h0M867.8 438.9h0M869.1 443.3h0M867.5 434.5h0M868.7 434.5h0M869.9 446.9h0M871.6 432.3h0M872.5 446.9h0M873.1 414.8h0M875.2 446.9h0M874.5 443.3h0M870.7 438.9h0M871.1 443.3h0M873.3 441.1h0M871.1 434.5h0M876.5 445.5h0M876.9 434.5h0M873.6 438.9h0M876.0 436.7h0M872.4 438.9h0M875.1 432.3h0M874.7 406.0h0M874.4 436.7h0M876.5 441.1h0M876.8 438.9h0M878.0 438.9h0M879.8 434.5h0M876.3 446.9h0M878.8 446.9h0M880.2 438.9h0M880.1 436.7h0M877.4 419.2h0M878.6 443.3h0M877.6 443.3h0M882.1 434.5h0M879.8 441.1h0M879.6 445.5h0M882.5 436.7h0M882.4 438.9h0M882.0 446.9h0M884.5 443.3h0M880.2 441.1h0M885.5 438.9h0M881.5 445.5h0M884.0 432.3h0M884.5 445.5h0M888.9 445.5h0M884.2 446.9h0M888.1 443.3h0M884.7 436.7h0M889.5 445.5h0M886.5 443.3h0M891.8 443.3h0M886.9 441.1h0M889.8 446.9h0M887.7 446.9h0M891.7 446.9h0M892.3 445.5h0M891.3 441.1h0M892.5 438.9h0M892.5 425.8h0M896.0 432.3h0M895.5 446.9h0M893.2 436.7h0M895.2 441.1h0M896.2 446.9h0M895.8 434.5h0M897.2 445.5h0M892.3 432.3h0M895.9 438.9h0M896.5 441.1h0M894.4 436.7h0M897.2 434.5h0M898.0 436.7h0M897.6 432.3h0M895.1 445.5h0M898.9 438.9h0M899.8 432.3h0M899.1 443.3h0M899.9 445.5h0M898.7 436.7h0M902.3 446.9h0M901.0 432.3h0M902.0 445.5h0M899.0 434.5h0M902.4 441.1h0M900.4 446.9h0M902.9 438.9h0M904.6 432.3h0M902.9 434.5h0M904.2 446.9h0M905.2 434.5h0M906.1 441.1h0M906.6 445.5h0M903.8 445.5h0M902.8 421.4h0M908.2 445.5h0M904.1 443.3h0M905.7 432.3h0M903.9 438.9h0M907.4 436.7h0M906.5 446.9h0M908.5 434.5h0M909.7 438.9h0M910.8 438.9h0M912.0 441.1h0M908.3 441.1h0M907.9 446.9h0M912.5 434.5h0M911.8 443.3h0M909.9 443.3h0M914.3 446.9h0M911.3 446.9h0M915.0 445.5h0M914.2 436.7h0M914.2 430.1h0M910.4 445.5h0M914.8 436.7h0M913.7 443.3h0M915.7 430.1h0M917.1 432.3h0M913.7 438.9h0M917.1 443.3h0M918.7 434.5h0M917.1 445.5h0M919.2 432.3h0M916.8 446.9h0M915.7 441.1h0M915.5 423.6h0M916.6 432.3h0M921.3 441.1h0M917.6 446.9h0M918.0 438.9h0M922.3 438.9h0M923.3 436.7h0M918.5 441.1h0M922.7 445.5h0M920.9 436.7h0M919.6 443.3h0M919.7 446.9h0M921.7 434.5h0M923.9 446.9h0M924.1 445.5h0M922.3 446.9h0M922.8 441.1h0M926.3 425.8h0M926.8 434.5h0M924.4 436.7h0M924.9 441.1h0M926.9 443.3h0M928.5 441.1h0M925.8 443.3h0M926.3 446.9h0M927.6 445.5h0M929.7 445.5h0M927.6 438.9h0M929.4 432.3h0M932.8 441.1h0M931.4 446.9h0M930.1 436.7h0M929.5 446.9h0M933.4 441.1h0M932.0 445.5h0M931.0 432.3h0M934.7 446.9h0M932.6 443.3h0M933.7 432.3h0M936.5 446.9h0M932.3 434.5h0M935.7 434.5h0M934.2 434.5h0M936.4 445.5h0M936.8 432.3h0M934.2 430.1h0M933.8 445.5h0M933.7 436.7h0M935.6 436.7h0M940.5 445.5h0M937.2 438.9h0M938.6 446.9h0M936.4 443.3h0M940.7 446.9h0M938.7 445.5h0M944.6 438.9h0M943.0 446.9h0M945.2 446.9h0M947.0 445.5h0M945.9 443.3h0M950.1 445.5h0M949.3 436.7h0M948.8 438.9h0M949.5 446.9h0M948.7 443.3h0M951.6 430.1h0M951.8 446.9h0M953.0 445.5h0M948.2 446.9h0M947.6 434.5h0M951.5 436.7h0M951.6 443.3h0M950.5 432.3h0M952.8 432.3h0M953.4 446.9h0M951.1 441.1h0M955.1 445.5h0M951.0 438.9h0M956.3 438.9h0M955.3 441.1h0M957.3 443.3h0M958.0 432.3h0M955.1 436.7h0M957.6 446.9h0M958.5 445.5h0M958.2 441.1h0M960.3 436.7h0M958.1 436.7h0M957.5 434.5h0M958.3 446.9h0M962.3 445.5h0M963.7 438.9h0M960.8 441.1h0M964.2 443.3h0M960.2 438.9h0M963.0 436.7h0M964.2 446.9h0M962.2 432.3h0M962.5 445.5h0M962.0 446.9h0M963.5 432.3h0M965.1 446.9h0M965.5 436.7h0M967.2 438.9h0M967.5 434.5h0M967.4 443.3h0M966.6 443.3h0M965.9 423.6h0M966.0 445.5h0M967.5 441.1h0M965.1 438.9h0M970.3 436.7h0M969.1 446.9h0M969.4 446.9h0M970.5 443.3h0M971.8 445.5h0M968.4 445.5h0M972.8 446.9h0M972.5 436.7h0M973.6 441.1h0M971.1 432.3h0M971.8 438.9h0M972.8 434.5h0M975.5 438.9h0M971.1 438.9h0M972.8 443.3h0M974.6 441.1h0M973.7 432.3h0M974.8 445.5h0M974.4 446.9h0M979.7 443.3h0M978.5 436.7h0M978.2 445.5h0M977.0 446.9h0M978.7 432.3h0M978.9 446.9h0M976.8 441.1h0M981.0 432.3h0M982.6 438.9h0M981.1 436.7h0M983.9 441.1h0M982.2 446.9h0M980.3 441.1h0M985.9 443.3h0M983.2 436.7h0M983.8 432.3h0M983.9 443.3h0M987.4 445.5h0M986.5 436.7h0M985.1 446.9h0M985.2 438.9h0M988.4 436.7h0M987.3 446.9h0M986.7 438.9h0M991.8 446.9h0M987.8 419.2h0M987.0 434.5h0M993.5 412.6h0M988.9 446.9h0M993.7 443.3h0M989.1 445.5h0M989.7 432.3h0M988.9 441.1h0M994.7 432.3h0M992.9 438.9h0M992.4 432.3h0M991.8 436.7h0M994.0 446.9h0M993.4 434.5h0M991.4 441.1h0M990.9 432.3h0M991.7 445.5h0M994.4 445.5h0M995.1 446.9h0M995.3 443.3h0M999.0 441.1h0M997.8 432.3h0M995.2 425.8h0M995.7 445.5h0M996.1 436.7h0M996.5 441.1h0M998.6 436.7h0M997.6 446.9h0M998.7 445.5h0M998.0 438.9h0M999.1 443.3h0M1025.0 446.9h0M1025.5 434.5h0M1026.1 438.9h0M1025.5 441.1h0M1023.6 446.9h0M1025.3 421.4h0M1027.5 441.1h0M1026.7 436.7h0M1028.7 443.3h0M1029.4 445.5h0M1027.5 446.9h0M1031.4 430.1h0M1026.5 445.5h0M1029.6 432.3h0M1030.9 446.9h0M1031.1 436.7h0M1027.7 432.3h0M1031.1 443.3h0M1031.7 445.5h0M1033.4 430.1h0M1032.5 446.9h0M1034.2 446.9h0M1032.4 432.3h0M1035.3 434.5h0M1033.0 436.7h0M1035.2 445.5h0M1031.0 441.1h0M1035.4 443.3h0M1036.9 438.9h0M1034.1 436.7h0M1034.8 441.1h0M1033.0 434.5h0M1033.3 441.1h0M1036.9 432.3h0M1036.3 436.7h0M1038.6 445.5h0M1036.4 446.9h0M1039.7 436.7h0M1038.5 443.3h0M1040.9 441.1h0M1040.3 446.9h0M1036.8 443.3h0M1039.4 441.1h0M1038.3 434.5h0M1043.3 441.1h0M1042.9 445.5h0M1041.6 438.9h0M1041.0 446.9h0M1041.0 443.3h0M1044.4 445.5h0M1047.1 443.3h0M1044.0 446.9h0M1047.1 441.1h0M1044.9 436.7h0M1047.3 438.9h0M1046.8 434.5h0M1047.3 430.1h0M1049.1 438.9h0M1049.7 445.5h0M1045.6 446.9h0M1049.8 436.7h0M1047.5 436.7h0M1051.2 445.5h0M1051.7 446.9h0M1052.5 436.7h0M1052.2 436.7h0M1048.9 446.9h0M1052.1 441.1h0M1049.0 443.3h0M1050.8 438.9h0M1050.9 432.3h0M1053.2 443.3h0M1052.7 445.5h0M1055.9 446.9h0M1053.8 446.9h0M1056.3 434.5h0M1054.1 425.8h0M1054.8 443.3h0M1057.0 432.3h0M1053.0 441.1h0M1055.3 445.5h0M1057.0 443.3h0M1057.9 423.6h0M1053.5 434.5h0M1053.0 432.3h0M1058.3 441.1h0M1055.3 436.7h0M1055.3 438.9h0M1059.0 434.5h0M1057.5 446.9h0M1059.5 443.3h0M1059.7 436.7h0M1059.8 446.9h0M1057.2 414.8h0M1062.1 445.5h0M1061.9 441.1h0M1060.8 438.9h0M1060.8 432.3h0M1063.2 436.7h0M1064.9 446.9h0M1062.5 446.9h0M1067.1 441.1h0M1066.6 434.5h0M1067.8 446.9h0M1068.7 438.9h0M1066.5 436.7h0M1070.1 445.5h0M1065.2 445.5h0M1071.5 443.3h0M1067.2 445.5h0M1070.1 446.9h0M1069.1 443.3h0M1072.7 446.9h0M1074.4 443.3h0M1072.0 441.1h0M1075.2 446.9h0M1076.0 446.9h0M1075.4 445.5h0M1077.8 438.9h0M1076.6 443.3h0M1079.7 445.5h0M1078.7 441.1h0M1079.5 446.9h0M1080.9 438.9h0M1080.6 443.3h0M1083.1 436.7h0M1082.3 430.1h0M1080.9 446.9h0M1084.4 443.3h0M1085.3 432.3h0M1080.8 445.5h0M1082.1 436.7h0M1083.8 438.9h0M1085.5 443.3h0M1083.5 446.9h0M1088.3 438.9h0M1083.6 445.5h0M1086.1 441.1h0M1087.9 446.9h0M1087.6 434.5h0M1085.4 446.9h0M1087.9 441.1h0M1085.5 438.9h0M1089.2 445.5h0M1086.7 434.5h0M1088.9 432.3h0M1092.8 445.5h0M1090.4 446.9h0M1090.4 436.7h0M1088.6 443.3h0M1091.9 441.1h0M1092.5 434.5h0M1089.9 432.3h0M1090.3 441.1h0M1094.6 436.7h0M1092.8 443.3h0M1092.7 446.9h0M1094.6 441.1h0M1094.5 432.3h0M1095.6 446.9h0M1093.0 438.9h0M1094.5 445.5h0M1096.1 445.5h0M1097.6 446.9h0M1099.2 441.1h0M1099.2 446.9h0M1100.3 443.3h0M1095.5 438.9h0M1097.6 434.5h0M1100.7 438.9h0M1098.2 436.7h0M1097.5 441.1h0M1098.3 445.5h0M1103.1 438.9h0M1102.1 436.7h0M1101.3 443.3h0M1101.5 446.9h0M1104.8 443.3h0M1101.8 445.5h0M1107.2 446.9h0M1103.8 436.7h0M1104.4 434.5h0M1104.6 446.9h0M1108.7 441.1h0M1105.9 438.9h0M1107.2 443.3h0M1109.6 445.5h0M1109.4 436.7h0M1113.2 438.9h0M1109.5 446.9h0M1112.0 446.9h0M1109.6 443.3h0M1111.1 441.1h0M1112.3 443.3h0M1111.2 443.3h0M1116.2 446.9h0M1111.3 436.7h0M1114.6 432.3h0M1117.1 441.1h0M1115.4 436.7h0M1116.3 428.0h0M1116.9 446.9h0M1116.9 432.3h0M1117.1 436.7h0M1113.8 446.9h0M1114.9 443.3h0M1115.9 441.1h0M1119.6 434.5h0M1117.0 434.5h0M1122.0 445.5h0M1118.6 443.3h0M1122.2 436.7h0M1119.6 441.1h0M1119.2 430.1h0M1123.2 443.3h0M1120.7 446.9h0M1123.8 446.9h0M1123.7 436.7h0M1119.9 438.9h0M1121.5 419.2h0M1126.2 445.5h0M1121.0 445.5h0M1125.5 432.3h0M1122.2 438.9h0M1123.9 441.1h0M1126.1 434.5h0M1124.0 430.1h0M1123.9 438.9h0M1123.5 432.3h0M1122.8 446.9h0M1128.0 432.3h0M1129.6 436.7h0M1126.1 446.9h0M1126.3 441.1h0M1129.3 443.3h0M1127.4 438.9h0M1128.9 438.9h0M1131.2 446.9h0M1128.3 441.1h0M1128.2 446.9h0M1132.2 445.5h0M1134.3 443.3h0M1134.8 445.5h0M1135.5 446.9h0M1136.1 445.5h0M1132.9 446.9h0M1140.3 436.7h0M1138.3 441.1h0M1136.6 443.3h0M1140.6 446.9h0M1138.7 445.5h0M1144.1 441.1h0M1140.0 443.3h0M1141.1 434.5h0M1139.3 446.9h0M1139.9 432.3h0M1139.6 438.9h0M1143.2 430.1h0M1140.3 438.9h0M1142.7 445.5h0M1143.3 446.9h0M1146.8 446.9h0M1142.8 434.5h0M1142.8 438.9h0M1146.7 445.5h0M1147.1 434.5h0M1144.3 421.4h0M1144.4 441.1h0M1146.1 428.0h0M1147.0 441.1h0M1147.8 436.7h0M1146.0 446.9h0M1144.8 432.3h0" fill="none" stroke-width="8" stroke-linecap="round"/>
<circle cx="99.5" cy="432.3" r="3"/>
<circle cx="100.8" cy="406.0" r="3"/>
<circle cx="99.7" cy="417.0" r="3"/>
<circle cx="103.8" cy="399.4" r="3"/>
<circle cx="101.2" cy="403.8" r="3"/>
<circle cx="104.0" cy="436.7" r="3"/>
<circle cx="99.6" cy="399.4" r="3"/>
<circle cx="102.5" cy="386.3" r="3"/>
<circle cx="102.8" cy="397.2" r="3"/>
<circle cx="101.1" cy="445.5" r="3"/>
<circle cx="104.3" cy="399.4" r="3"/>
<circle cx="104.4" cy="428.0" r="3"/>
<circle cx="100.9" cy="434.5" r="3"/>
<circle cx="101.9" cy="428.0" r="3"/>
<circle cx="104.5" cy="430.1" r="3"/>
<circle cx="103.2" cy="432.3" r="3"/>
<circle cx="104.8" cy="419.2" r="3"/>
<circle cx="105.8" cy="353.3" r="3"/>
<circle cx="103.0" cy="384.1" r="3"/>
<circle cx="103.0" cy="366.5" r="3"/>
<circle cx="104.5" cy="379.7" r="3"/>
<circle cx="103.3" cy="436.7" r="3"/>
<circle cx="105.2" cy="410.4" r="3"/>
<circle cx="107.1" cy="423.6" r="3"/>
<circle cx="103.4" cy="410.4" r="3"/>
<circle cx="106.4" cy="408.2" r="3"/>
<circle cx="108.2" cy="430.1" r="3"/>
<circle cx="106.6" cy="417.0" r="3"/>
<circle cx="105.9" cy="406.0" r="3"/>
<circle cx="110.7" cy="401.6" r="3"/>
<circle cx="109.7" cy="441.1" r="3"/>
<circle cx="109.2" cy="445.5" r="3"/>
<circle cx="111.2" cy="375.3" r="3"/>
<circle cx="111.3" cy="399.4" r="3"/>
<circle cx="106.5" cy="401.6" r="3"/>
<circle cx="107.0" cy="410.4" r="3"/>
<circle cx="107.1" cy="438.9" r="3"/>
<circle cx="108.0" cy="357.7" r="3"/>
<circle cx="111.2" cy="445.5" r="3"/>
<circle cx="112.9" cy="406.0" r="3"/>
<circle cx="112.6" cy="432.3" r="3"/>
<circle cx="109.8" cy="406.0" r="3"/>
<circle cx="111.2" cy="373.1" r="3"/>
<circle cx="110.8" cy="412.6" r="3"/>
<circle cx="114.2" cy="406.0" r="3"/>
<circle cx="111.2" cy="364.3" r="3"/>
<circle cx="115.9" cy="417.0" r="3"/>
<circle cx="116.2" cy="430.1" r="3"/>
<circle cx="115.2" cy="428.0" r="3"/>
<circle cx="115.0" cy="445.5" r="3"/>
<circle cx="118.0" cy="430.1" r="3"/>
<circle cx="117.5" cy="428.0" r="3"/>
<circle cx="113.7" cy="414.8" r="3"/>
<circle cx="116.5" cy="421.4" r="3"/>
<circle cx="116.1" cy="436.7" r="3"/>
<circle cx="119.7" cy="445.5" r="3"/>
<circle cx="122.6" cy="443.3" r="3"/>
<circle cx="118.0" cy="428.0" r="3"/>
<circle cx="120.8" cy="428.0" r="3"/>
<circle cx="123.7" cy="446.9" r="3"/>
<circle cx="124.3" cy="421.4" r="3"/>
<circle cx="120.8" cy="432.3" r="3"/>
<circle cx="120.8" cy="438.9" r="3"/>
<circle cx="126.5" cy="446.9" r="3"/>
<circle cx="122.3" cy="446.9" r="3"/>
<circle cx="126.1" cy="419.2" r="3"/>
<circle cx="125.1" cy="432.3" r="3"/>
<circle cx="126.8" cy="410.4" r="3"/>
<circle cx="126.3" cy="423.6" r="3"/>
<circle cx="124.5" cy="423.6" r="3"/>
<circle cx="127.2" cy="421.4" r="3"/>
<circle cx="130.0" cy="441.1" r="3"/>
<circle cx="129.9" cy="425.8" r="3"/>
<circle cx="129.9" cy="445.5" r="3"/>
<circle cx="129.4" cy="423.6" r="3"/>
<circle cx="130.1" cy="430.1" r="3"/>
<circle cx="130.6" cy="421.4" r="3"/>
<circle cx="161.4" cy="446.9" r="3"/>
<circle cx="163.1" cy="419.2" r="3"/>
<circle cx="162.6" cy="412.6" r="3"/>
<circle cx="162.4" cy="399.4" r="3"/>
<circle cx="162.6" cy="401.6" r="3"/>
<circle cx="165.7" cy="384.1" r="3"/>
<circle cx="164.8" cy="346.8" r="3"/>
<circle cx="165.9" cy="342.4" r="3"/>
<circle cx="164.0" cy="412.6" r="3"/>
<circle cx="164.1" cy="375.3" r="3"/>
<circle cx="164.5" cy="335.8" r="3"/>
<circle cx="164.5" cy="333.6" r="3"/>
<circle cx="164.8" cy="368.7" r="3"/>
<circle cx="165.2" cy="397.2" r="3"/>
<circle cx="166.0" cy="395.0" r="3"/>
<circle cx="164.0" cy="446.9" r="3"/>
<circle cx="164.0" cy="436.7" r="3"/>
<circle cx="164.9" cy="373.1" r="3"/>
<circle cx="166.0" cy="362.1" r="3"/>
<circle cx="166.4" cy="403.8" r="3"/>
<circle cx="164.0" cy="388.5" r="3"/>
<circle cx="164.1" cy="366.5" r="3"/>
<circle cx="165.5" cy="355.5" r="3"/>
<circle cx="165.4" cy="318.2" r="3"/>
<circle cx="165.0" cy="296.3" r="3"/>
<circle cx="164.5" cy="316.0" r="3"/>
<circle cx="165.1" cy="377.5" r="3"/>
<circle cx="165.3" cy="316.0" r="3"/>
<circle cx="165.8" cy="276.5" r="3"/>
<circle cx="168.0" cy="311.7" r="3"/>
<circle cx="168.9" cy="443.3" r="3"/>
<circle cx="168.0" cy="311.7" r="3"/>
<circle cx="165.4" cy="313.8" r="3"/>
<circle cx="167.9" cy="408.2" r="3"/>
<circle cx="169.0" cy="267.8" r="3"/>
<circle cx="168.3" cy="430.1" r="3"/>
<circle cx="165.3" cy="351.2" r="3"/>
<circle cx="166.1" cy="357.7" r="3"/>
<circle cx="166.4" cy="401.6" r="3"/>
<circle cx="166.2" cy="327.0" r="3"/>
<circle cx="165.5" cy="322.6" r="3"/>
<circle cx="171.3" cy="357.7" r="3"/>
<circle cx="166.6" cy="438.9" r="3"/>
<circle cx="168.0" cy="263.4" r="3"/>
<circle cx="168.9" cy="414.8" r="3"/>
<circle cx="168.0" cy="197.6" r="3"/>
<circle cx="170.8" cy="344.6" r="3"/>
<circle cx="171.4" cy="338.0" r="3"/>
<circle cx="170.5" cy="401.6" r="3"/>
<circle cx="168.0" cy="280.9" r="3"/>
<circle cx="170.8" cy="428.0" r="3"/>
<circle cx="171.1" cy="446.9" r="3"/>
<circle cx="170.8" cy="443.3" r="3"/>
<circle cx="169.2" cy="438.9" r="3"/>
<circle cx="169.0" cy="188.8" r="3"/>
<circle cx="170.8" cy="388.5" r="3"/>
<circle cx="171.3" cy="368.7" r="3"/>
<circle cx="169.9" cy="399.4" r="3"/>
<circle cx="171.8" cy="333.6" r="3"/>
<circle cx="172.9" cy="359.9" r="3"/>
<circle cx="175.6" cy="432.3" r="3"/>
<circle cx="171.8" cy="342.4" r="3"/>
<circle cx="172.4" cy="353.3" r="3"/>
<circle cx="175.0" cy="388.5" r="3"/>
<circle cx="172.3" cy="436.7" r="3"/>
<circle cx="173.2" cy="397.2" r="3"/>
<circle cx="177.1" cy="408.2" r="3"/>
<circle cx="176.9" cy="443.3" r="3"/>
<circle cx="175.9" cy="438.9" r="3"/>
<circle cx="172.8" cy="379.7" r="3"/>
<circle cx="175.9" cy="410.4" r="3"/>
<circle cx="177.9" cy="432.3" r="3"/>
<circle cx="179.7" cy="434.5" r="3"/>
<circle cx="178.1" cy="428.0" r="3"/>
<circle cx="178.8" cy="421.4" r="3"/>
<circle cx="180.4" cy="436.7" r="3"/>
<circle cx="181.6" cy="421.4" r="3"/>
<circle cx="181.7" cy="432.3" r="3"/>
<circle cx="183.2" cy="445.5" r="3"/>
<circle cx="182.1" cy="401.6" r="3"/>
<circle cx="180.4" cy="425.8" r="3"/>
<circle cx="184.4" cy="408.2" r="3"/>
<circle cx="182.8" cy="408.2" r="3"/>
<circle cx="185.9" cy="355.5" r="3"/>
<circle cx="185.8" cy="381.9" r="3"/>
<circle cx="186.2" cy="331.4" r="3"/>
<circle cx="187.1" cy="412.6" r="3"/>
<circle cx="184.7" cy="434.5" r="3"/>
<circle cx="187.4" cy="395.0" r="3"/>
<circle cx="187.2" cy="331.4" r="3"/>
<circle cx="187.6" cy="370.9" r="3"/>
<circle cx="186.7" cy="401.6" r="3"/>
<circle cx="186.2" cy="399.4" r="3"/>
<circle cx="187.4" cy="436.7" r="3"/>
<circle cx="185.0" cy="446.9" r="3"/>
<circle cx="187.9" cy="362.1" r="3"/>
<circle cx="186.6" cy="401.6" r="3"/>
<circle cx="185.8" cy="359.9" r="3"/>
<circle cx="186.2" cy="425.8" r="3"/>
<circle cx="188.9" cy="397.2" r="3"/>
<circle cx="186.0" cy="346.8" r="3"/>
<circle cx="185.7" cy="349.0" r="3"/>
<circle cx="185.6" cy="419.2" r="3"/>
<circle cx="186.6" cy="388.5" r="3"/>
<circle cx="187.4" cy="403.8" r="3"/>
<circle cx="186.1" cy="408.2" r="3"/>
<circle cx="190.2" cy="388.5" r="3"/>
<circle cx="189.2" cy="403.8" r="3"/>
<circle cx="185.6" cy="364.3" r="3"/>
<circle cx="187.0" cy="335.8" r="3"/>
<circle cx="190.0" cy="311.7" r="3"/>
<circle cx="187.1" cy="333.6" r="3"/>
<circle cx="188.4" cy="438.9" r="3"/>
<circle cx="190.8" cy="274.4" r="3"/>
<circle cx="187.6" cy="342.4" r="3"/>
<circle cx="187.9" cy="425.8" r="3"/>
<circle cx="185.5" cy="401.6" r="3"/>
<circle cx="190.6" cy="432.3" r="3"/>
<circle cx="190.9" cy="425.8" r="3"/>
<circle cx="186.8" cy="417.0" r="3"/>
<circle cx="185.6" cy="377.5" r="3"/>
<circle cx="191.0" cy="434.5" r="3"/>
<circle cx="190.9" cy="386.3" r="3"/>
<circle cx="189.8" cy="375.3" r="3"/>
<circle cx="190.2" cy="311.7" r="3"/>
<circle cx="187.0" cy="436.7" r="3"/>
<circle cx="187.8" cy="410.4" r="3"/>
<circle cx="190.6" cy="408.2" r="3"/>
<circle cx="190.4" cy="428.0" r="3"/>
<circle cx="190.9" cy="399.4" r="3"/>
<circle cx="190.9" cy="401.6" r="3"/>
<circle cx="186.1" cy="430.1" r="3"/>
<circle cx="192.2" cy="388.5" r="3"/>
<circle cx="190.3" cy="414.8" r="3"/>
<circle cx="192.6" cy="344.6" r="3"/>
<circle cx="191.3" cy="421.4" r="3"/>
<circle cx="189.1" cy="410.4" r="3"/>
<circle cx="188.8" cy="443.3" r="3"/>
<circle cx="192.2" cy="430.1" r="3"/>
<circle cx="190.6" cy="362.1" r="3"/>
<circle cx="190.2" cy="397.2" r="3"/>
<circle cx="190.3" cy="406.0" r="3"/>
<circle cx="187.5" cy="311.7" r="3"/>
<circle cx="191.0" cy="428.0" r="3"/>
<circle cx="190.1" cy="423.6" r="3"/>
<circle cx="190.9" cy="408.2" r="3"/>
<circle cx="188.8" cy="311.7" r="3"/>
<circle cx="191.0" cy="412.6" r="3"/>
<circle cx="192.1" cy="375.3" r="3"/>
<circle cx="190.7" cy="390.6" r="3"/>
<circle cx="191.0" cy="410.4" r="3"/>
<circle cx="192.4" cy="368.7" r="3"/>
<circle cx="190.9" cy="423.6" r="3"/>
<circle cx="192.9" cy="379.7" r="3"/>
<circle cx="190.9" cy="351.2" r="3"/>
<circle cx="192.0" cy="395.0" r="3"/>
<circle cx="191.0" cy="421.4" r="3"/>
<circle cx="191.0" cy="381.9" r="3"/>
<circle cx="191.2" cy="386.3" r="3"/>
<circle cx="190.0" cy="329.2" r="3"/>
<circle cx="191.3" cy="419.2" r="3"/>
<circle cx="190.6" cy="377.5" r="3"/>
<circle cx="190.3" cy="412.6" r="3"/>
<circle cx="190.3" cy="417.0" r="3"/>
<circle cx="191.3" cy="392.8" r="3"/>
<circle cx="191.5" cy="349.0" r="3"/>
<circle cx="190.7" cy="370.9" r="3"/>
<circle cx="191.4" cy="355.5" r="3"/>
<circle cx="191.1" cy="377.5" r="3"/>
<circle cx="191.8" cy="359.9" r="3"/>
<circle cx="191.9" cy="381.9" r="3"/>
<circle cx="190.7" cy="364.3" r="3"/>
<circle cx="192.7" cy="403.8" r="3"/>
<circle cx="192.0" cy="417.0" r="3"/>
<circle cx="222.7" cy="432.3" r="3"/>
<circle cx="225.8" cy="379.7" r="3"/>
<circle cx="226.2" cy="344.6" r="3"/>
<circle cx="225.5" cy="414.8" r="3"/>
<circle cx="226.8" cy="302.9" r="3"/>
<circle cx="227.6" cy="445.5" r="3"/>
<circle cx="225.5" cy="397.2" r="3"/>
<circle cx="227.8" cy="287.5" r="3"/>
<circle cx="228.5" cy="403.8" r="3"/>
<circle cx="228.9" cy="397.2" r="3"/>
<circle cx="228.5" cy="434.5" r="3"/>
<circle cx="227.8" cy="322.6" r="3"/>
<circle cx="226.8" cy="357.7" r="3"/>
<circle cx="227.8" cy="320.4" r="3"/>
<circle cx="226.8" cy="302.9" r="3"/>
<circle cx="227.4" cy="423.6" r="3"/>
<circle cx="228.0" cy="381.9" r="3"/>
<circle cx="228.4" cy="417.0" r="3"/>
<circle cx="231.0" cy="430.1" r="3"/>
<circle cx="226.7" cy="357.7" r="3"/>
<circle cx="228.0" cy="412.6" r="3"/>
<circle cx="227.3" cy="430.1" r="3"/>
<circle cx="231.5" cy="419.2" r="3"/>
<circle cx="226.7" cy="342.4" r="3"/>
<circle cx="232.3" cy="432.3" r="3"/>
<circle cx="227.8" cy="340.2" r="3"/>
<circle cx="230.8" cy="438.9" r="3"/>
<circle cx="228.3" cy="342.4" r="3"/>
<circle cx="231.5" cy="446.9" r="3"/>
<circle cx="232.8" cy="434.5" r="3"/>
<circle cx="233.8" cy="446.9" r="3"/>
<circle cx="235.7" cy="425.8" r="3"/>
<circle cx="230.3" cy="399.4" r="3"/>
<circle cx="234.4" cy="430.1" r="3"/>
<circle cx="234.4" cy="443.3" r="3"/>
<circle cx="236.2" cy="428.0" r="3"/>
<circle cx="237.7" cy="432.3" r="3"/>
<circle cx="234.4" cy="445.5" r="3"/>
<circle cx="239.9" cy="436.7" r="3"/>
<circle cx="236.3" cy="423.6" r="3"/>
<circle cx="235.2" cy="438.9" r="3"/>
<circle cx="237.1" cy="436.7" r="3"/>
<circle cx="236.4" cy="438.9" r="3"/>
<circle cx="240.5" cy="430.1" r="3"/>
<circle cx="240.3" cy="446.9" r="3"/>
<circle cx="239.9" cy="425.8" r="3"/>
<circle cx="243.7" cy="430.1" r="3"/>
<circle cx="242.5" cy="412.6" r="3"/>
<circle cx="241.1" cy="434.5" r="3"/>
<circle cx="241.1" cy="423.6" r="3"/>
<circle cx="242.2" cy="430.1" r="3"/>
<circle cx="242.0" cy="438.9" r="3"/>
<circle cx="246.1" cy="423.6" r="3"/>
<circle cx="241.2" cy="441.1" r="3"/>
<circle cx="246.2" cy="438.9" r="3"/>
<circle cx="242.5" cy="414.8" r="3"/>
<circle cx="248.7" cy="379.7" r="3"/>
<circle cx="247.8" cy="390.6" r="3"/>
<circle cx="246.8" cy="419.2" r="3"/>
<circle cx="250.8" cy="333.6" r="3"/>
<circle cx="247.6" cy="423.6" r="3"/>
<circle cx="247.9" cy="441.1" r="3"/>
<circle cx="250.3" cy="434.5" r="3"/>
<circle cx="250.5" cy="386.3" r="3"/>
<circle cx="250.4" cy="375.3" r="3"/>
<circle cx="251.8" cy="311.7" r="3"/>
<circle cx="252.4" cy="410.4" r="3"/>
<circle cx="252.4" cy="438.9" r="3"/>
<circle cx="254.0" cy="384.1" r="3"/>
<circle cx="249.9" cy="381.9" r="3"/>
<circle cx="254.7" cy="423.6" r="3"/>
<circle cx="253.0" cy="327.0" r="3"/>
<circle cx="251.8" cy="311.7" r="3"/>
<circle cx="254.8" cy="406.0" r="3"/>
<circle cx="250.8" cy="349.0" r="3"/>
<circle cx="253.0" cy="340.2" r="3"/>
<circle cx="253.0" cy="375.3" r="3"/>
<circle cx="256.3" cy="392.8" r="3"/>
<circle cx="250.8" cy="349.0" r="3"/>
<circle cx="257.2" cy="408.2" r="3"/>
<circle cx="253.8" cy="364.3" r="3"/>
<circle cx="252.5" cy="446.9" r="3"/>
<circle cx="258.0" cy="357.7" r="3"/>
<circle cx="253.7" cy="364.3" r="3"/>
<circle cx="254.6" cy="377.5" r="3"/>
<circle cx="253.0" cy="272.2" r="3"/>
<circle cx="257.8" cy="377.5" r="3"/>
<circle cx="257.0" cy="351.2" r="3"/>
<circle cx="253.3" cy="340.2" r="3"/>
<circle cx="255.0" cy="430.1" r="3"/>
<circle cx="258.0" cy="357.7" r="3"/>
<circle cx="255.5" cy="441.1" r="3"/>
<circle cx="257.0" cy="289.7" r="3"/>
<circle cx="260.3" cy="377.5" r="3"/>
<circle cx="257.0" cy="351.2" r="3"/>
<circle cx="257.9" cy="375.3" r="3"/>
<circle cx="259.9" cy="432.3" r="3"/>
<circle cx="261.3" cy="446.9" r="3"/>
<circle cx="257.0" cy="305.1" r="3"/>
<circle cx="257.9" cy="438.9" r="3"/>
<circle cx="257.0" cy="305.1" r="3"/>
<circle cx="261.8" cy="333.6" r="3"/>
<circle cx="258.0" cy="430.1" r="3"/>
<circle cx="261.4" cy="403.8" r="3"/>
<circle cx="263.8" cy="366.5" r="3"/>
<circle cx="262.3" cy="441.1" r="3"/>
<circle cx="264.1" cy="438.9" r="3"/>
<circle cx="264.3" cy="443.3" r="3"/>
<circle cx="261.8" cy="392.8" r="3"/>
<circle cx="260.8" cy="390.6" r="3"/>
<circle cx="261.2" cy="412.6" r="3"/>
<circle cx="261.0" cy="445.5" r="3"/>
<circle cx="261.6" cy="386.3" r="3"/>
<circle cx="260.5" cy="384.1" r="3"/>
<circle cx="264.5" cy="412.6" r="3"/>
<circle cx="263.8" cy="373.1" r="3"/>
<circle cx="261.0" cy="446.9" r="3"/>
<circle cx="263.1" cy="379.7" r="3"/>
<circle cx="263.8" cy="366.5" r="3"/>
<circle cx="264.5" cy="399.4" r="3"/>
<circle cx="266.8" cy="436.7" r="3"/>
<circle cx="268.2" cy="441.1" r="3"/>
<circle cx="264.0" cy="408.2" r="3"/>
<circle cx="264.5" cy="446.9" r="3"/>
<circle cx="267.5" cy="414.8" r="3"/>
<circle cx="263.8" cy="373.1" r="3"/>
<circle cx="265.8" cy="392.8" r="3"/>
<circle cx="267.3" cy="430.1" r="3"/>
<circle cx="269.7" cy="430.1" r="3"/>
<circle cx="265.2" cy="392.8" r="3"/>
<circle cx="271.8" cy="443.3" r="3"/>
<circle cx="272.1" cy="428.0" r="3"/>
<circle cx="268.0" cy="428.0" r="3"/>
<circle cx="268.4" cy="436.7" r="3"/>
<circle cx="269.6" cy="445.5" r="3"/>
<circle cx="275.0" cy="414.8" r="3"/>
<circle cx="272.2" cy="445.5" r="3"/>
<circle cx="274.9" cy="434.5" r="3"/>
<circle cx="275.5" cy="423.6" r="3"/>
<circle cx="277.9" cy="406.0" r="3"/>
<circle cx="276.6" cy="445.5" r="3"/>
<circle cx="274.6" cy="446.9" r="3"/>
<circle cx="275.5" cy="441.1" r="3"/>
<circle cx="275.4" cy="401.6" r="3"/>
<circle cx="274.3" cy="438.9" r="3"/>
<circle cx="278.9" cy="397.2" r="3"/>
<circle cx="276.0" cy="425.8" r="3"/>
<circle cx="280.3" cy="392.8" r="3"/>
<circle cx="281.2" cy="417.0" r="3"/>
<circle cx="278.0" cy="446.9" r="3"/>
<circle cx="282.1" cy="430.1" r="3"/>
<circle cx="279.4" cy="403.8" r="3"/>
<circle cx="283.4" cy="392.8" r="3"/>
<circle cx="281.8" cy="445.5" r="3"/>
<circle cx="279.9" cy="428.0" r="3"/>
<circle cx="285.8" cy="210.7" r="3"/>
<circle cx="285.8" cy="364.3" r="3"/>
<circle cx="284.8" cy="438.9" r="3"/>
<circle cx="280.5" cy="390.6" r="3"/>
<circle cx="283.7" cy="446.9" r="3"/>
<circle cx="285.0" cy="351.2" r="3"/>
<circle cx="285.8" cy="318.2" r="3"/>
<circle cx="284.9" cy="379.7" r="3"/>
<circle cx="283.7" cy="386.3" r="3"/>
<circle cx="285.8" cy="318.2" r="3"/>
<circle cx="285.8" cy="327.0" r="3"/>
<circle cx="289.3" cy="414.8" r="3"/>
<circle cx="285.8" cy="351.2" r="3"/>
<circle cx="284.7" cy="368.7" r="3"/>
<circle cx="288.2" cy="384.1" r="3"/>
<circle cx="286.8" cy="340.2" r="3"/>
<circle cx="285.4" cy="419.2" r="3"/>
<circle cx="286.5" cy="445.5" r="3"/>
<circle cx="290.2" cy="430.1" r="3"/>
<circle cx="288.2" cy="446.9" r="3"/>
<circle cx="286.7" cy="340.2" r="3"/>
<circle cx="286.8" cy="353.3" r="3"/>
<circle cx="290.2" cy="446.9" r="3"/>
<circle cx="291.1" cy="436.7" r="3"/>
<circle cx="288.1" cy="445.5" r="3"/>
<circle cx="287.9" cy="399.4" r="3"/>
<circle cx="287.3" cy="377.5" r="3"/>
<circle cx="291.9" cy="406.0" r="3"/>
<circle cx="288.4" cy="441.1" r="3"/>
<circle cx="290.6" cy="381.9" r="3"/>
<circle cx="291.0" cy="388.5" r="3"/>
<circle cx="291.5" cy="432.3" r="3"/>
<circle cx="289.7" cy="425.8" r="3"/>
<circle cx="293.7" cy="441.1" r="3"/>
<circle cx="292.7" cy="386.3" r="3"/>
<circle cx="293.2" cy="410.4" r="3"/>
<circle cx="296.3" cy="445.5" r="3"/>
<circle cx="296.6" cy="436.7" r="3"/>
<circle cx="291.8" cy="397.2" r="3"/>
<circle cx="293.3" cy="425.8" r="3"/>
<circle cx="298.2" cy="434.5" r="3"/>
<circle cx="295.0" cy="446.9" r="3"/>
<circle cx="295.0" cy="390.6" r="3"/>
<circle cx="295.1" cy="408.2" r="3"/>
<circle cx="299.5" cy="379.7" r="3"/>
<circle cx="299.9" cy="445.5" r="3"/>
<circle cx="300.0" cy="379.7" r="3"/>
<circle cx="300.7" cy="412.6" r="3"/>
<circle cx="296.2" cy="406.0" r="3"/>
<circle cx="295.3" cy="436.7" r="3"/>
<circle cx="297.3" cy="399.4" r="3"/>
<circle cx="296.0" cy="430.1" r="3"/>
<circle cx="296.6" cy="432.3" r="3"/>
<circle cx="296.8" cy="441.1" r="3"/>
<circle cx="296.9" cy="419.2" r="3"/>
<circle cx="296.4" cy="423.6" r="3"/>
<circle cx="300.9" cy="406.0" r="3"/>
<circle cx="303.5" cy="425.8" r="3"/>
<circle cx="299.3" cy="403.8" r="3"/>
<circle cx="299.7" cy="417.0" r="3"/>
<circle cx="303.6" cy="432.3" r="3"/>
<circle cx="301.0" cy="445.5" r="3"/>
<circle cx="303.2" cy="412.6" r="3"/>
<circle cx="303.8" cy="423.6" r="3"/>
<circle cx="304.3" cy="406.0" r="3"/>
<circle cx="305.3" cy="412.6" r="3"/>
<circle cx="303.6" cy="446.9" r="3"/>
<circle cx="306.6" cy="443.3" r="3"/>
<circle cx="307.9" cy="412.6" r="3"/>
<circle cx="304.8" cy="443.3" r="3"/>
<circle cx="306.5" cy="408.2" r="3"/>
<circle cx="307.8" cy="434.5" r="3"/>
<circle cx="309.2" cy="399.4" r="3"/>
<circle cx="306.0" cy="423.6" r="3"/>
<circle cx="307.4" cy="390.6" r="3"/>
<circle cx="310.9" cy="443.3" r="3"/>
<circle cx="310.6" cy="430.1" r="3"/>
<circle cx="310.0" cy="379.7" r="3"/>
<circle cx="311.8" cy="307.3" r="3"/>
<circle cx="311.8" cy="283.1" r="3"/>
<circle cx="311.5" cy="445.5" r="3"/>
<circle cx="309.0" cy="388.5" r="3"/>
<circle cx="311.6" cy="434.5" r="3"/>
<circle cx="313.2" cy="428.0" r="3"/>
<circle cx="309.9" cy="386.3" r="3"/>
<circle cx="314.9" cy="368.7" r="3"/>
<circle cx="311.8" cy="307.3" r="3"/>
<circle cx="314.4" cy="441.1" r="3"/>
<circle cx="313.7" cy="419.2" r="3"/>
<circle cx="313.7" cy="375.3" r="3"/>
<circle cx="312.4" cy="423.6" r="3"/>
<circle cx="316.9" cy="381.9" r="3"/>
<circle cx="315.7" cy="417.0" r="3"/>
<circle cx="313.7" cy="432.3" r="3"/>
<circle cx="312.7" cy="443.3" r="3"/>
<circle cx="315.5" cy="373.1" r="3"/>
<circle cx="316.7" cy="342.4" r="3"/>
<circle cx="314.9" cy="445.5" r="3"/>
<circle cx="316.2" cy="340.2" r="3"/>
<circle cx="315.9" cy="379.7" r="3"/>
<circle cx="314.0" cy="384.1" r="3"/>
<circle cx="313.6" cy="397.2" r="3"/>
<circle cx="317.5" cy="333.6" r="3"/>
<circle cx="315.7" cy="364.3" r="3"/>
<circle cx="317.1" cy="446.9" r="3"/>
<circle cx="317.1" cy="419.2" r="3"/>
<circle cx="320.0" cy="364.3" r="3"/>
<circle cx="319.0" cy="283.1" r="3"/>
<circle cx="314.7" cy="434.5" r="3"/>
<circle cx="317.2" cy="353.3" r="3"/>
<circle cx="320.0" cy="355.5" r="3"/>
<circle cx="316.1" cy="388.5" r="3"/>
<circle cx="318.5" cy="434.5" r="3"/>
<circle cx="316.8" cy="351.2" r="3"/>
<circle cx="318.5" cy="351.2" r="3"/>
<circle cx="320.0" cy="338.0" r="3"/>
<circle cx="316.9" cy="438.9" r="3"/>
<circle cx="321.3" cy="390.6" r="3"/>
<circle cx="316.8" cy="410.4" r="3"/>
<circle cx="322.8" cy="403.8" r="3"/>
<circle cx="317.3" cy="423.6" r="3"/>
<circle cx="320.4" cy="375.3" r="3"/>
<circle cx="319.2" cy="446.9" r="3"/>
<circle cx="320.8" cy="434.5" r="3"/>
<circle cx="324.1" cy="425.8" r="3"/>
<circle cx="322.0" cy="445.5" r="3"/>
<circle cx="324.5" cy="412.6" r="3"/>
<circle cx="322.3" cy="408.2" r="3"/>
<circle cx="320.4" cy="359.9" r="3"/>
<circle cx="322.5" cy="344.6" r="3"/>
<circle cx="323.1" cy="436.7" r="3"/>
<circle cx="322.5" cy="384.1" r="3"/>
<circle cx="321.7" cy="346.8" r="3"/>
<circle cx="323.3" cy="366.5" r="3"/>
<circle cx="325.1" cy="432.3" r="3"/>
<circle cx="321.9" cy="425.8" r="3"/>
<circle cx="324.6" cy="441.1" r="3"/>
<circle cx="322.6" cy="377.5" r="3"/>
<circle cx="323.5" cy="406.0" r="3"/>
<circle cx="322.9" cy="370.9" r="3"/>
<circle cx="328.1" cy="432.3" r="3"/>
<circle cx="324.5" cy="446.9" r="3"/>
<circle cx="327.7" cy="446.9" r="3"/>
<circle cx="325.9" cy="434.5" r="3"/>
<circle cx="325.8" cy="423.6" r="3"/>
<circle cx="326.5" cy="430.1" r="3"/>
<circle cx="331.2" cy="410.4" r="3"/>
<circle cx="329.9" cy="425.8" r="3"/>
<circle cx="331.2" cy="408.2" r="3"/>
<circle cx="327.7" cy="438.9" r="3"/>
<circle cx="331.3" cy="428.0" r="3"/>
<circle cx="330.1" cy="436.7" r="3"/>
<circle cx="331.4" cy="434.5" r="3"/>
<circle cx="331.3" cy="445.5" r="3"/>
<circle cx="333.7" cy="430.1" r="3"/>
<circle cx="334.2" cy="428.0" r="3"/>
<circle cx="335.2" cy="438.9" r="3"/>
<circle cx="335.5" cy="432.3" r="3"/>
<circle cx="334.2" cy="443.3" r="3"/>
<circle cx="339.2" cy="425.8" r="3"/>
<circle cx="336.2" cy="443.3" r="3"/>
<circle cx="338.2" cy="445.5" r="3"/>
<circle cx="339.4" cy="441.1" r="3"/>
<circle cx="343.5" cy="425.8" r="3"/>
<circle cx="340.1" cy="401.6" r="3"/>
<circle cx="341.6" cy="412.6" r="3"/>
<circle cx="338.8" cy="430.1" r="3"/>
<circle cx="340.8" cy="399.4" r="3"/>
<circle cx="343.4" cy="432.3" r="3"/>
<circle cx="344.4" cy="441.1" r="3"/>
<circle cx="342.0" cy="392.8" r="3"/>
<circle cx="345.2" cy="401.6" r="3"/>
<circle cx="342.8" cy="446.9" r="3"/>
<circle cx="344.8" cy="338.0" r="3"/>
<circle cx="344.6" cy="412.6" r="3"/>
<circle cx="343.7" cy="370.9" r="3"/>
<circle cx="344.8" cy="316.0" r="3"/>
<circle cx="343.3" cy="445.5" r="3"/>
<circle cx="344.5" cy="430.1" r="3"/>
<circle cx="343.7" cy="417.0" r="3"/>
<circle cx="342.3" cy="421.4" r="3"/>
<circle cx="344.0" cy="438.9" r="3"/>
<circle cx="346.0" cy="395.0" r="3"/>
<circle cx="344.9" cy="388.5" r="3"/>
<circle cx="343.8" cy="368.7" r="3"/>
<circle cx="346.2" cy="419.2" r="3"/>
<circle cx="343.9" cy="406.0" r="3"/>
<circle cx="343.6" cy="388.5" r="3"/>
<circle cx="348.6" cy="390.6" r="3"/>
<circle cx="348.8" cy="362.1" r="3"/>
<circle cx="349.2" cy="362.1" r="3"/>
<circle cx="348.4" cy="386.3" r="3"/>
<circle cx="350.1" cy="443.3" r="3"/>
<circle cx="344.8" cy="316.0" r="3"/>
<circle cx="346.3" cy="408.2" r="3"/>
<circle cx="348.5" cy="445.5" r="3"/>
<circle cx="348.1" cy="414.8" r="3"/>
<circle cx="345.5" cy="381.9" r="3"/>
<circle cx="346.7" cy="430.1" r="3"/>
<circle cx="346.3" cy="377.5" r="3"/>
<circle cx="347.0" cy="432.3" r="3"/>
<circle cx="346.3" cy="384.1" r="3"/>
<circle cx="349.7" cy="434.5" r="3"/>
<circle cx="350.2" cy="392.8" r="3"/>
<circle cx="351.8" cy="368.7" r="3"/>
<circle cx="347.7" cy="377.5" r="3"/>
<circle cx="350.9" cy="438.9" r="3"/>
<circle cx="351.3" cy="392.8" r="3"/>
<circle cx="348.2" cy="436.7" r="3"/>
<circle cx="353.2" cy="438.9" r="3"/>
<circle cx="348.4" cy="425.8" r="3"/>
<circle cx="352.5" cy="395.0" r="3"/>
<circle cx="349.3" cy="377.5" r="3"/>
<circle cx="350.0" cy="381.9" r="3"/>
<circle cx="352.7" cy="410.4" r="3"/>
<circle cx="352.5" cy="370.9" r="3"/>
<circle cx="354.4" cy="430.1" r="3"/>
<circle cx="351.8" cy="329.2" r="3"/>
<circle cx="352.5" cy="434.5" r="3"/>
<circle cx="355.6" cy="412.6" r="3"/>
<circle cx="353.2" cy="417.0" r="3"/>
<circle cx="353.4" cy="438.9" r="3"/>
<circle cx="354.3" cy="401.6" r="3"/>
<circle cx="356.1" cy="443.3" r="3"/>
<circle cx="359.4" cy="414.8" r="3"/>
<circle cx="358.4" cy="446.9" r="3"/>
<circle cx="359.2" cy="436.7" r="3"/>
<circle cx="355.8" cy="399.4" r="3"/>
<circle cx="357.2" cy="428.0" r="3"/>
<circle cx="357.0" cy="434.5" r="3"/>
<circle cx="355.3" cy="397.2" r="3"/>
<circle cx="360.8" cy="430.1" r="3"/>
<circle cx="361.4" cy="414.8" r="3"/>
<circle cx="360.1" cy="438.9" r="3"/>
<circle cx="363.7" cy="423.6" r="3"/>
<circle cx="361.2" cy="419.2" r="3"/>
<circle cx="359.9" cy="443.3" r="3"/>
<circle cx="364.0" cy="438.9" r="3"/>
<circle cx="364.0" cy="419.2" r="3"/>
<circle cx="362.3" cy="432.3" r="3"/>
<circle cx="362.1" cy="428.0" r="3"/>
<circle cx="364.6" cy="432.3" r="3"/>
<circle cx="365.3" cy="432.3" r="3"/>
<circle cx="363.7" cy="414.8" r="3"/>
<circle cx="364.7" cy="441.1" r="3"/>
<circle cx="362.8" cy="446.9" r="3"/>
<circle cx="366.5" cy="436.7" r="3"/>
<circle cx="366.7" cy="401.6" r="3"/>
<circle cx="365.1" cy="414.8" r="3"/>
<circle cx="364.5" cy="430.1" r="3"/>
<circle cx="367.7" cy="438.9" r="3"/>
<circle cx="365.0" cy="434.5" r="3"/>
<circle cx="367.3" cy="414.8" r="3"/>
<circle cx="366.2" cy="401.6" r="3"/>
<circle cx="372.6" cy="399.4" r="3"/>
<circle cx="367.8" cy="446.9" r="3"/>
<circle cx="372.2" cy="441.1" r="3"/>
<circle cx="372.9" cy="397.2" r="3"/>
<circle cx="370.8" cy="417.0" r="3"/>
<circle cx="370.4" cy="412.6" r="3"/>
<circle cx="375.8" cy="443.3" r="3"/>
<circle cx="375.8" cy="432.3" r="3"/>
<circle cx="376.2" cy="397.2" r="3"/>
<circle cx="376.7" cy="436.7" r="3"/>
<circle cx="372.9" cy="401.6" r="3"/>
<circle cx="377.3" cy="412.6" r="3"/>
<circle cx="372.5" cy="446.9" r="3"/>
<circle cx="374.1" cy="401.6" r="3"/>
<circle cx="375.1" cy="434.5" r="3"/>
<circle cx="373.0" cy="438.9" r="3"/>
<circle cx="376.1" cy="441.1" r="3"/>
<circle cx="378.1" cy="428.0" r="3"/>
<circle cx="374.7" cy="430.1" r="3"/>
<circle cx="377.0" cy="366.5" r="3"/>
<circle cx="374.5" cy="425.8" r="3"/>
<circle cx="375.8" cy="408.2" r="3"/>
<circle cx="377.0" cy="375.3" r="3"/>
<circle cx="377.0" cy="375.3" r="3"/>
<circle cx="373.8" cy="397.2" r="3"/>
<circle cx="377.0" cy="366.5" r="3"/>
<circle cx="377.0" cy="366.5" r="3"/>
<circle cx="376.3" cy="419.2" r="3"/>
<circle cx="377.4" cy="430.1" r="3"/>
<circle cx="377.4" cy="397.2" r="3"/>
<circle cx="377.0" cy="377.5" r="3"/>
<circle cx="377.5" cy="397.2" r="3"/>
<circle cx="377.9" cy="403.8" r="3"/>
<circle cx="377.5" cy="428.0" r="3"/>
<circle cx="375.9" cy="401.6" r="3"/>
<circle cx="377.8" cy="423.6" r="3"/>
<circle cx="376.7" cy="432.3" r="3"/>
<circle cx="377.9" cy="432.3" r="3"/>
<circle cx="377.6" cy="446.9" r="3"/>
<circle cx="378.1" cy="414.8" r="3"/>
<circle cx="439.2" cy="443.3" r="3"/>
<circle cx="438.4" cy="438.9" r="3"/>
<circle cx="442.1" cy="410.4" r="3"/>
<circle cx="443.0" cy="366.5" r="3"/>
<circle cx="442.1" cy="403.8" r="3"/>
<circle cx="440.8" cy="364.3" r="3"/>
<circle cx="441.6" cy="399.4" r="3"/>
<circle cx="444.4" cy="414.8" r="3"/>
<circle cx="441.6" cy="425.8" r="3"/>
<circle cx="445.8" cy="353.3" r="3"/>
<circle cx="446.7" cy="392.8" r="3"/>
<circle cx="448.4" cy="430.1" r="3"/>
<circle cx="444.4" cy="399.4" r="3"/>
<circle cx="448.2" cy="403.8" r="3"/>
<circle cx="449.6" cy="390.6" r="3"/>
<circle cx="447.5" cy="349.0" r="3"/>
<circle cx="445.5" cy="406.0" r="3"/>
<circle cx="448.6" cy="421.4" r="3"/>
<circle cx="447.8" cy="410.4" r="3"/>
<circle cx="446.8" cy="419.2" r="3"/>
<circle cx="448.8" cy="412.6" r="3"/>
<circle cx="452.8" cy="414.8" r="3"/>
<circle cx="451.8" cy="379.7" r="3"/>
<circle cx="452.5" cy="425.8" r="3"/>
<circle cx="450.2" cy="421.4" r="3"/>
<circle cx="449.3" cy="425.8" r="3"/>
<circle cx="451.9" cy="399.4" r="3"/>
<circle cx="454.9" cy="425.8" r="3"/>
<circle cx="450.5" cy="401.6" r="3"/>
<circle cx="454.1" cy="445.5" r="3"/>
<circle cx="460.0" cy="421.4" r="3"/>
<circle cx="460.0" cy="414.8" r="3"/>
<circle cx="457.4" cy="417.0" r="3"/>
<circle cx="456.4" cy="414.8" r="3"/>
<circle cx="462.5" cy="408.2" r="3"/>
<circle cx="463.1" cy="414.8" r="3"/>
<circle cx="463.8" cy="414.8" r="3"/>
<circle cx="465.8" cy="434.5" r="3"/>
<circle cx="466.5" cy="425.8" r="3"/>
<circle cx="467.2" cy="417.0" r="3"/>
<circle cx="473.0" cy="430.1" r="3"/>
<circle cx="469.6" cy="423.6" r="3"/>
<circle cx="469.7" cy="419.2" r="3"/>
<circle cx="471.5" cy="414.8" r="3"/>
<circle cx="474.1" cy="414.8" r="3"/>
<circle cx="474.7" cy="403.8" r="3"/>
<circle cx="475.5" cy="414.8" r="3"/>
<circle cx="474.8" cy="445.5" r="3"/>
<circle cx="476.2" cy="399.4" r="3"/>
<circle cx="475.8" cy="388.5" r="3"/>
<circle cx="478.2" cy="417.0" r="3"/>
<circle cx="475.4" cy="410.4" r="3"/>
<circle cx="474.4" cy="421.4" r="3"/>
<circle cx="477.1" cy="430.1" r="3"/>
<circle cx="476.5" cy="401.6" r="3"/>
<circle cx="476.8" cy="379.7" r="3"/>
<circle cx="476.7" cy="417.0" r="3"/>
<circle cx="482.5" cy="421.4" r="3"/>
<circle cx="481.9" cy="417.0" r="3"/>
<circle cx="480.6" cy="423.6" r="3"/>
<circle cx="485.5" cy="428.0" r="3"/>
<circle cx="488.0" cy="438.9" r="3"/>
<circle cx="484.9" cy="430.1" r="3"/>
<circle cx="488.4" cy="436.7" r="3"/>
<circle cx="489.2" cy="441.1" r="3"/>
<circle cx="495.3" cy="421.4" r="3"/>
<circle cx="491.0" cy="434.5" r="3"/>
<circle cx="493.8" cy="419.2" r="3"/>
<circle cx="496.7" cy="432.3" r="3"/>
<circle cx="493.4" cy="428.0" r="3"/>
<circle cx="493.2" cy="425.8" r="3"/>
<circle cx="498.5" cy="406.0" r="3"/>
<circle cx="498.7" cy="412.6" r="3"/>
<circle cx="498.0" cy="428.0" r="3"/>
<circle cx="498.0" cy="419.2" r="3"/>
<circle cx="499.1" cy="417.0" r="3"/>
<circle cx="503.4" cy="397.2" r="3"/>
<circle cx="501.8" cy="397.2" r="3"/>
<circle cx="501.8" cy="388.5" r="3"/>
<circle cx="502.1" cy="399.4" r="3"/>
<circle cx="506.6" cy="410.4" r="3"/>
<circle cx="507.0" cy="430.1" r="3"/>
<circle cx="506.6" cy="399.4" r="3"/>
<circle cx="501.8" cy="357.7" r="3"/>
<circle cx="501.8" cy="379.7" r="3"/>
<circle cx="506.0" cy="414.8" r="3"/>
<circle cx="507.7" cy="399.4" r="3"/>
<circle cx="508.7" cy="419.2" r="3"/>
<circle cx="505.5" cy="403.8" r="3"/>
<circle cx="503.4" cy="425.8" r="3"/>
<circle cx="507.6" cy="406.0" r="3"/>
<circle cx="504.0" cy="406.0" r="3"/>
<circle cx="505.6" cy="446.9" r="3"/>
<circle cx="508.3" cy="401.6" r="3"/>
<circle cx="507.9" cy="425.8" r="3"/>
<circle cx="511.5" cy="423.6" r="3"/>
<circle cx="508.2" cy="438.9" r="3"/>
<circle cx="508.8" cy="414.8" r="3"/>
<circle cx="513.1" cy="434.5" r="3"/>
<circle cx="515.7" cy="438.9" r="3"/>
<circle cx="513.7" cy="428.0" r="3"/>
<circle cx="515.9" cy="443.3" r="3"/>
<circle cx="516.8" cy="438.9" r="3"/>
<circle cx="517.9" cy="432.3" r="3"/>
<circle cx="522.9" cy="423.6" r="3"/>
<circle cx="522.0" cy="432.3" r="3"/>
<circle cx="520.1" cy="425.8" r="3"/>
<circle cx="524.3" cy="419.2" r="3"/>
<circle cx="524.4" cy="428.0" r="3"/>
<circle cx="526.8" cy="425.8" r="3"/>
<circle cx="527.5" cy="408.2" r="3"/>
<circle cx="528.1" cy="399.4" r="3"/>
<circle cx="526.4" cy="417.0" r="3"/>
<circle cx="530.9" cy="414.8" r="3"/>
<circle cx="527.6" cy="399.4" r="3"/>
<circle cx="530.0" cy="410.4" r="3"/>
<circle cx="531.6" cy="423.6" r="3"/>
<circle cx="528.8" cy="417.0" r="3"/>
<circle cx="530.7" cy="403.8" r="3"/>
<circle cx="533.3" cy="430.1" r="3"/>
<circle cx="531.8" cy="386.3" r="3"/>
<circle cx="534.6" cy="399.4" r="3"/>
<circle cx="531.5" cy="399.4" r="3"/>
<circle cx="536.7" cy="423.6" r="3"/>
<circle cx="533.8" cy="375.3" r="3"/>
<circle cx="533.8" cy="355.5" r="3"/>
<circle cx="532.3" cy="419.2" r="3"/>
<circle cx="538.0" cy="362.1" r="3"/>
<circle cx="538.1" cy="403.8" r="3"/>
<circle cx="538.0" cy="388.5" r="3"/>
<circle cx="538.0" cy="408.2" r="3"/>
<circle cx="537.1" cy="399.4" r="3"/>
<circle cx="539.4" cy="425.8" r="3"/>
<circle cx="542.2" cy="421.4" r="3"/>
<circle cx="539.7" cy="419.2" r="3"/>
<circle cx="538.5" cy="401.6" r="3"/>
<circle cx="539.8" cy="406.0" r="3"/>
<circle cx="544.2" cy="412.6" r="3"/>
<circle cx="540.9" cy="417.0" r="3"/>
<circle cx="542.1" cy="425.8" r="3"/>
<circle cx="542.1" cy="412.6" r="3"/>
<circle cx="545.8" cy="397.2" r="3"/>
<circle cx="550.0" cy="417.0" r="3"/>
<circle cx="548.6" cy="417.0" r="3"/>
<circle cx="551.8" cy="419.2" r="3"/>
<circle cx="553.4" cy="417.0" r="3"/>
<circle cx="550.4" cy="414.8" r="3"/>
<circle cx="551.1" cy="414.8" r="3"/>
<circle cx="556.5" cy="399.4" r="3"/>
<circle cx="553.8" cy="410.4" r="3"/>
<circle cx="558.1" cy="388.5" r="3"/>
<circle cx="556.2" cy="421.4" r="3"/>
<circle cx="556.0" cy="401.6" r="3"/>
<circle cx="558.1" cy="414.8" r="3"/>
<circle cx="558.3" cy="401.6" r="3"/>
<circle cx="557.5" cy="403.8" r="3"/>
<circle cx="561.9" cy="397.2" r="3"/>
<circle cx="561.8" cy="399.4" r="3"/>
<circle cx="561.2" cy="403.8" r="3"/>
<circle cx="559.6" cy="419.2" r="3"/>
<circle cx="560.2" cy="392.8" r="3"/>
<circle cx="559.3" cy="410.4" r="3"/>
<circle cx="558.5" cy="399.4" r="3"/>
<circle cx="562.8" cy="349.0" r="3"/>
<circle cx="561.6" cy="412.6" r="3"/>
<circle cx="563.1" cy="401.6" r="3"/>
<circle cx="560.5" cy="375.3" r="3"/>
<circle cx="561.2" cy="357.7" r="3"/>
<circle cx="562.8" cy="331.4" r="3"/>
<circle cx="560.7" cy="384.1" r="3"/>
<circle cx="565.3" cy="379.7" r="3"/>
<circle cx="561.7" cy="430.1" r="3"/>
<circle cx="560.3" cy="419.2" r="3"/>
<circle cx="565.2" cy="390.6" r="3"/>
<circle cx="563.8" cy="375.3" r="3"/>
<circle cx="562.8" cy="302.9" r="3"/>
<circle cx="566.2" cy="423.6" r="3"/>
<circle cx="563.8" cy="366.5" r="3"/>
<circle cx="566.2" cy="353.3" r="3"/>
<circle cx="569.3" cy="425.8" r="3"/>
<circle cx="568.8" cy="370.9" r="3"/>
<circle cx="568.7" cy="419.2" r="3"/>
<circle cx="571.0" cy="401.6" r="3"/>
<circle cx="568.7" cy="375.3" r="3"/>
<circle cx="569.3" cy="386.3" r="3"/>
<circle cx="568.6" cy="392.8" r="3"/>
<circle cx="572.2" cy="410.4" r="3"/>
<circle cx="573.7" cy="423.6" r="3"/>
<circle cx="574.1" cy="423.6" r="3"/>
<circle cx="571.6" cy="406.0" r="3"/>
<circle cx="578.3" cy="425.8" r="3"/>
<circle cx="575.9" cy="417.0" r="3"/>
<circle cx="578.5" cy="419.2" r="3"/>
<circle cx="582.8" cy="417.0" r="3"/>
<circle cx="583.4" cy="446.9" r="3"/>
<circle cx="579.6" cy="419.2" r="3"/>
<circle cx="584.7" cy="423.6" r="3"/>
<circle cx="586.0" cy="412.6" r="3"/>
<circle cx="587.2" cy="432.3" r="3"/>
<circle cx="582.9" cy="419.2" r="3"/>
<circle cx="587.5" cy="417.0" r="3"/>
<circle cx="584.0" cy="421.4" r="3"/>
<circle cx="588.9" cy="412.6" r="3"/>
<circle cx="589.9" cy="410.4" r="3"/>
<circle cx="590.2" cy="432.3" r="3"/>
<circle cx="587.5" cy="421.4" r="3"/>
<circle cx="591.9" cy="414.8" r="3"/>
<circle cx="591.5" cy="425.8" r="3"/>
<circle cx="593.0" cy="373.1" r="3"/>
<circle cx="593.6" cy="428.0" r="3"/>
<circle cx="595.0" cy="425.8" r="3"/>
<circle cx="590.2" cy="406.0" r="3"/>
<circle cx="595.1" cy="401.6" r="3"/>
<circle cx="594.6" cy="412.6" r="3"/>
<circle cx="591.9" cy="419.2" r="3"/>
<circle cx="593.3" cy="399.4" r="3"/>
<circle cx="593.9" cy="397.2" r="3"/>
<circle cx="596.2" cy="399.4" r="3"/>
<circle cx="596.5" cy="421.4" r="3"/>
<circle cx="598.8" cy="408.2" r="3"/>
<circle cx="600.5" cy="428.0" r="3"/>
<circle cx="601.2" cy="408.2" r="3"/>
<circle cx="600.8" cy="410.4" r="3"/>
<circle cx="599.2" cy="414.8" r="3"/>
<circle cx="599.6" cy="430.1" r="3"/>
<circle cx="602.3" cy="414.8" r="3"/>
<circle cx="602.1" cy="443.3" r="3"/>
<circle cx="605.0" cy="425.8" r="3"/>
<circle cx="606.6" cy="421.4" r="3"/>
<circle cx="609.0" cy="421.4" r="3"/>
<circle cx="612.9" cy="421.4" r="3"/>
<circle cx="614.8" cy="419.2" r="3"/>
<circle cx="616.4" cy="410.4" r="3"/>
<circle cx="618.9" cy="423.6" r="3"/>
<circle cx="617.4" cy="417.0" r="3"/>
<circle cx="623.2" cy="412.6" r="3"/>
<circle cx="619.4" cy="403.8" r="3"/>
<circle cx="624.2" cy="401.6" r="3"/>
<circle cx="620.2" cy="401.6" r="3"/>
<circle cx="622.0" cy="419.2" r="3"/>
<circle cx="624.7" cy="403.8" r="3"/>
<circle cx="620.2" cy="406.0" r="3"/>
<circle cx="621.2" cy="414.8" r="3"/>
<circle cx="625.4" cy="414.8" r="3"/>
<circle cx="623.8" cy="408.2" r="3"/>
<circle cx="627.0" cy="375.3" r="3"/>
<circle cx="629.0" cy="419.2" r="3"/>
<circle cx="625.2" cy="397.2" r="3"/>
<circle cx="626.7" cy="410.4" r="3"/>
<circle cx="629.7" cy="406.0" r="3"/>
<circle cx="630.8" cy="399.4" r="3"/>
<circle cx="628.6" cy="408.2" r="3"/>
<circle cx="628.5" cy="399.4" r="3"/>
<circle cx="628.0" cy="425.8" r="3"/>
<circle cx="630.4" cy="430.1" r="3"/>
<circle cx="630.8" cy="397.2" r="3"/>
<circle cx="635.1" cy="406.0" r="3"/>
<circle cx="635.3" cy="423.6" r="3"/>
<circle cx="633.2" cy="399.4" r="3"/>
<circle cx="636.0" cy="419.2" r="3"/>
<circle cx="634.5" cy="445.5" r="3"/>
<circle cx="641.1" cy="428.0" r="3"/>
<circle cx="638.3" cy="417.0" r="3"/>
<circle cx="639.2" cy="423.6" r="3"/>
<circle cx="640.0" cy="430.1" r="3"/>
<circle cx="642.3" cy="423.6" r="3"/>
<circle cx="643.3" cy="436.7" r="3"/>
<circle cx="646.4" cy="419.2" r="3"/>
<circle cx="643.0" cy="432.3" r="3"/>
<circle cx="645.2" cy="417.0" r="3"/>
<circle cx="645.7" cy="414.8" r="3"/>
<circle cx="651.1" cy="423.6" r="3"/>
<circle cx="648.7" cy="421.4" r="3"/>
<circle cx="651.6" cy="401.6" r="3"/>
<circle cx="648.0" cy="410.4" r="3"/>
<circle cx="652.5" cy="417.0" r="3"/>
<circle cx="653.2" cy="406.0" r="3"/>
<circle cx="652.9" cy="401.6" r="3"/>
<circle cx="654.0" cy="414.8" r="3"/>
<circle cx="656.1" cy="425.8" r="3"/>
<circle cx="655.0" cy="379.7" r="3"/>
<circle cx="659.3" cy="419.2" r="3"/>
<circle cx="658.6" cy="417.0" r="3"/>
<circle cx="656.6" cy="397.2" r="3"/>
<circle cx="660.4" cy="401.6" r="3"/>
<circle cx="660.6" cy="408.2" r="3"/>
<circle cx="659.8" cy="392.8" r="3"/>
<circle cx="656.1" cy="412.6" r="3"/>
<circle cx="659.4" cy="421.4" r="3"/>
<circle cx="658.8" cy="397.2" r="3"/>
<circle cx="658.8" cy="401.6" r="3"/>
<circle cx="657.6" cy="412.6" r="3"/>
<circle cx="661.3" cy="406.0" r="3"/>
<circle cx="660.7" cy="390.6" r="3"/>
<circle cx="660.1" cy="414.8" r="3"/>
<circle cx="662.1" cy="392.8" r="3"/>
<circle cx="664.8" cy="397.2" r="3"/>
<circle cx="661.2" cy="388.5" r="3"/>
<circle cx="666.0" cy="421.4" r="3"/>
<circle cx="664.9" cy="390.6" r="3"/>
<circle cx="662.9" cy="406.0" r="3"/>
<circle cx="663.1" cy="430.1" r="3"/>
<circle cx="662.5" cy="419.2" r="3"/>
<circle cx="661.9" cy="401.6" r="3"/>
<circle cx="666.3" cy="403.8" r="3"/>
<circle cx="663.1" cy="395.0" r="3"/>
<circle cx="661.7" cy="390.6" r="3"/>
<circle cx="667.7" cy="395.0" r="3"/>
<circle cx="665.8" cy="403.8" r="3"/>
<circle cx="666.7" cy="430.1" r="3"/>
<circle cx="664.2" cy="428.0" r="3"/>
<circle cx="665.6" cy="419.2" r="3"/>
<circle cx="667.2" cy="421.4" r="3"/>
<circle cx="667.9" cy="414.8" r="3"/>
<circle cx="665.2" cy="417.0" r="3"/>
<circle cx="663.7" cy="406.0" r="3"/>
<circle cx="664.5" cy="388.5" r="3"/>
<circle cx="669.9" cy="428.0" r="3"/>
<circle cx="669.1" cy="423.6" r="3"/>
<circle cx="670.8" cy="423.6" r="3"/>
<circle cx="674.8" cy="423.6" r="3"/>
<circle cx="674.1" cy="425.8" r="3"/>
<circle cx="675.8" cy="419.2" r="3"/>
<circle cx="675.9" cy="428.0" r="3"/>
<circle cx="672.5" cy="425.8" r="3"/>
<circle cx="677.8" cy="417.0" r="3"/>
<circle cx="681.1" cy="412.6" r="3"/>
<circle cx="680.2" cy="417.0" r="3"/>
<circle cx="678.9" cy="423.6" r="3"/>
<circle cx="682.8" cy="408.2" r="3"/>
<circle cx="680.8" cy="397.2" r="3"/>
<circle cx="679.9" cy="428.0" r="3"/>
<circle cx="686.2" cy="408.2" r="3"/>
<circle cx="686.3" cy="414.8" r="3"/>
<circle cx="685.0" cy="388.5" r="3"/>
<circle cx="684.5" cy="425.8" r="3"/>
<circle cx="686.7" cy="425.8" r="3"/>
<circle cx="691.5" cy="410.4" r="3"/>
<circle cx="687.5" cy="379.7" r="3"/>
<circle cx="688.0" cy="401.6" r="3"/>
<circle cx="686.6" cy="403.8" r="3"/>
<circle cx="688.3" cy="421.4" r="3"/>
<circle cx="690.5" cy="379.7" r="3"/>
<circle cx="690.0" cy="388.5" r="3"/>
<circle cx="690.8" cy="410.4" r="3"/>
<circle cx="691.2" cy="384.1" r="3"/>
<circle cx="690.8" cy="430.1" r="3"/>
<circle cx="690.0" cy="392.8" r="3"/>
<circle cx="695.5" cy="419.2" r="3"/>
<circle cx="697.7" cy="419.2" r="3"/>
<circle cx="696.1" cy="428.0" r="3"/>
<circle cx="694.6" cy="430.1" r="3"/>
<circle cx="701.2" cy="428.0" r="3"/>
<circle cx="702.0" cy="432.3" r="3"/>
<circle cx="702.8" cy="428.0" r="3"/>
<circle cx="702.8" cy="434.5" r="3"/>
<circle cx="700.2" cy="425.8" r="3"/>
<circle cx="705.0" cy="425.8" r="3"/>
<circle cx="705.0" cy="403.8" r="3"/>
<circle cx="707.4" cy="421.4" r="3"/>
<circle cx="710.8" cy="417.0" r="3"/>
<circle cx="707.6" cy="423.6" r="3"/>
<circle cx="709.6" cy="446.9" r="3"/>
<circle cx="713.4" cy="414.8" r="3"/>
<circle cx="713.0" cy="419.2" r="3"/>
<circle cx="715.8" cy="425.8" r="3"/>
<circle cx="715.0" cy="386.3" r="3"/>
<circle cx="716.6" cy="419.2" r="3"/>
<circle cx="715.5" cy="397.2" r="3"/>
<circle cx="717.0" cy="428.0" r="3"/>
<circle cx="714.9" cy="421.4" r="3"/>
<circle cx="715.7" cy="417.0" r="3"/>
<circle cx="721.9" cy="414.8" r="3"/>
<circle cx="719.1" cy="417.0" r="3"/>
<circle cx="718.7" cy="428.0" r="3"/>
<circle cx="719.5" cy="434.5" r="3"/>
<circle cx="722.5" cy="412.6" r="3"/>
<circle cx="725.0" cy="423.6" r="3"/>
<circle cx="721.3" cy="412.6" r="3"/>
<circle cx="722.5" cy="401.6" r="3"/>
<circle cx="727.5" cy="428.0" r="3"/>
<circle cx="730.6" cy="434.5" r="3"/>
<circle cx="728.4" cy="423.6" r="3"/>
<circle cx="731.4" cy="430.1" r="3"/>
<circle cx="733.2" cy="430.1" r="3"/>
<circle cx="734.6" cy="434.5" r="3"/>
<circle cx="735.4" cy="428.0" r="3"/>
<circle cx="738.7" cy="430.1" r="3"/>
<circle cx="737.2" cy="441.1" r="3"/>
<circle cx="738.6" cy="425.8" r="3"/>
<circle cx="742.6" cy="421.4" r="3"/>
<circle cx="741.2" cy="428.0" r="3"/>
<circle cx="745.8" cy="419.2" r="3"/>
<circle cx="743.7" cy="425.8" r="3"/>
<circle cx="747.5" cy="408.2" r="3"/>
<circle cx="748.6" cy="428.0" r="3"/>
<circle cx="749.2" cy="412.6" r="3"/>
<circle cx="748.0" cy="425.8" r="3"/>
<circle cx="747.5" cy="401.6" r="3"/>
<circle cx="750.1" cy="430.1" r="3"/>
<circle cx="749.4" cy="417.0" r="3"/>
<circle cx="746.6" cy="401.6" r="3"/>
<circle cx="749.2" cy="408.2" r="3"/>
<circle cx="751.6" cy="421.4" r="3"/>
<circle cx="753.1" cy="406.0" r="3"/>
<circle cx="754.6" cy="423.6" r="3"/>
<circle cx="754.2" cy="432.3" r="3"/>
<circle cx="754.2" cy="408.2" r="3"/>
<circle cx="756.5" cy="436.7" r="3"/>
<circle cx="757.4" cy="430.1" r="3"/>
<circle cx="767.4" cy="445.5" r="3"/>
<circle cx="770.0" cy="417.0" r="3"/>
<circle cx="768.8" cy="446.9" r="3"/>
<circle cx="770.0" cy="421.4" r="3"/>
<circle cx="773.2" cy="417.0" r="3"/>
<circle cx="772.0" cy="412.6" r="3"/>
<circle cx="769.9" cy="423.6" r="3"/>
<circle cx="772.7" cy="430.1" r="3"/>
<circle cx="774.9" cy="410.4" r="3"/>
<circle cx="775.7" cy="425.8" r="3"/>
<circle cx="779.3" cy="430.1" r="3"/>
<circle cx="778.5" cy="446.9" r="3"/>
<circle cx="775.3" cy="417.0" r="3"/>
<circle cx="779.5" cy="403.8" r="3"/>
<circle cx="778.2" cy="428.0" r="3"/>
<circle cx="781.8" cy="377.5" r="3"/>
<circle cx="777.3" cy="425.8" r="3"/>
<circle cx="777.6" cy="406.0" r="3"/>
<circle cx="778.4" cy="410.4" r="3"/>
<circle cx="783.3" cy="419.2" r="3"/>
<circle cx="782.9" cy="406.0" r="3"/>
<circle cx="783.3" cy="428.0" r="3"/>
<circle cx="780.8" cy="392.8" r="3"/>
<circle cx="782.6" cy="408.2" r="3"/>
<circle cx="780.8" cy="388.5" r="3"/>
<circle cx="784.8" cy="412.6" r="3"/>
<circle cx="785.9" cy="419.2" r="3"/>
<circle cx="783.6" cy="421.4" r="3"/>
<circle cx="788.4" cy="423.6" r="3"/>
<circle cx="790.8" cy="421.4" r="3"/>
<circle cx="791.8" cy="408.2" r="3"/>
<circle cx="794.0" cy="425.8" r="3"/>
<circle cx="794.6" cy="445.5" r="3"/>
<circle cx="796.6" cy="430.1" r="3"/>
<circle cx="795.3" cy="436.7" r="3"/>
<circle cx="798.0" cy="434.5" r="3"/>
<circle cx="801.1" cy="428.0" r="3"/>
<circle cx="802.2" cy="432.3" r="3"/>
<circle cx="807.2" cy="419.2" r="3"/>
<circle cx="802.9" cy="417.0" r="3"/>
<circle cx="805.0" cy="392.8" r="3"/>
<circle cx="806.9" cy="408.2" r="3"/>
<circle cx="807.5" cy="399.4" r="3"/>
<circle cx="805.1" cy="417.0" r="3"/>
<circle cx="809.8" cy="403.8" r="3"/>
<circle cx="810.3" cy="414.8" r="3"/>
<circle cx="806.0" cy="421.4" r="3"/>
<circle cx="811.9" cy="428.0" r="3"/>
<circle cx="810.4" cy="432.3" r="3"/>
<circle cx="811.1" cy="408.2" r="3"/>
<circle cx="811.9" cy="401.6" r="3"/>
<circle cx="811.8" cy="368.7" r="3"/>
<circle cx="812.5" cy="423.6" r="3"/>
<circle cx="809.9" cy="428.0" r="3"/>
<circle cx="813.0" cy="388.5" r="3"/>
<circle cx="812.4" cy="421.4" r="3"/>
<circle cx="813.0" cy="399.4" r="3"/>
<circle cx="811.8" cy="379.7" r="3"/>
<circle cx="812.5" cy="375.3" r="3"/>
<circle cx="814.3" cy="421.4" r="3"/>
<circle cx="816.3" cy="408.2" r="3"/>
<circle cx="814.7" cy="428.0" r="3"/>
<circle cx="817.1" cy="417.0" r="3"/>
<circle cx="814.0" cy="403.8" r="3"/>
<circle cx="817.0" cy="408.2" r="3"/>
<circle cx="815.4" cy="406.0" r="3"/>
<circle cx="817.7" cy="425.8" r="3"/>
<circle cx="818.8" cy="417.0" r="3"/>
<circle cx="821.5" cy="419.2" r="3"/>
<circle cx="823.0" cy="421.4" r="3"/>
<circle cx="826.5" cy="419.2" r="3"/>
<circle cx="823.9" cy="425.8" r="3"/>
<circle cx="827.4" cy="417.0" r="3"/>
<circle cx="828.3" cy="430.1" r="3"/>
<circle cx="831.5" cy="425.8" r="3"/>
<circle cx="826.9" cy="421.4" r="3"/>
<circle cx="832.5" cy="423.6" r="3"/>
<circle cx="830.7" cy="421.4" r="3"/>
<circle cx="834.4" cy="421.4" r="3"/>
<circle cx="829.1" cy="425.8" r="3"/>
<circle cx="833.0" cy="401.6" r="3"/>
<circle cx="832.9" cy="419.2" r="3"/>
<circle cx="832.5" cy="430.1" r="3"/>
<circle cx="837.7" cy="419.2" r="3"/>
<circle cx="837.7" cy="432.3" r="3"/>
<circle cx="838.4" cy="425.8" r="3"/>
<circle cx="842.5" cy="397.2" r="3"/>
<circle cx="841.3" cy="428.0" r="3"/>
<circle cx="843.0" cy="379.7" r="3"/>
<circle cx="840.6" cy="419.2" r="3"/>
<circle cx="840.9" cy="425.8" r="3"/>
<circle cx="843.2" cy="417.0" r="3"/>
<circle cx="845.0" cy="388.5" r="3"/>
<circle cx="849.2" cy="425.8" r="3"/>
<circle cx="847.3" cy="419.2" r="3"/>
<circle cx="846.9" cy="425.8" r="3"/>
<circle cx="844.5" cy="428.0" r="3"/>
<circle cx="845.0" cy="414.8" r="3"/>
<circle cx="846.2" cy="417.0" r="3"/>
<circle cx="848.0" cy="392.8" r="3"/>
<circle cx="847.9" cy="419.2" r="3"/>
<circle cx="852.5" cy="428.0" r="3"/>
<circle cx="851.0" cy="428.0" r="3"/>
<circle cx="852.9" cy="432.3" r="3"/>
<circle cx="856.4" cy="436.7" r="3"/>
<circle cx="855.5" cy="430.1" r="3"/>
<circle cx="858.0" cy="436.7" r="3"/>
<circle cx="859.5" cy="430.1" r="3"/>
<circle cx="859.9" cy="436.7" r="3"/>
<circle cx="858.6" cy="432.3" r="3"/>
<circle cx="861.2" cy="419.2" r="3"/>
<circle cx="862.9" cy="432.3" r="3"/>
<circle cx="864.7" cy="432.3" r="3"/>
<circle cx="867.5" cy="421.4" r="3"/>
<circle cx="870.5" cy="421.4" r="3"/>
<circle cx="868.2" cy="423.6" r="3"/>
<circle cx="870.7" cy="423.6" r="3"/>
<circle cx="873.2" cy="388.5" r="3"/>
<circle cx="870.3" cy="414.8" r="3"/>
<circle cx="873.4" cy="408.2" r="3"/>
<circle cx="874.3" cy="425.8" r="3"/>
<circle cx="872.5" cy="397.2" r="3"/>
<circle cx="876.1" cy="425.8" r="3"/>
<circle cx="871.8" cy="425.8" r="3"/>
<circle cx="873.4" cy="401.6" r="3"/>
<circle cx="872.7" cy="401.6" r="3"/>
<circle cx="872.0" cy="419.2" r="3"/>
<circle cx="873.0" cy="373.1" r="3"/>
<circle cx="876.5" cy="430.1" r="3"/>
<circle cx="875.5" cy="373.1" r="3"/>
<circle cx="880.2" cy="425.8" r="3"/>
<circle cx="876.5" cy="403.8" r="3"/>
<circle cx="881.7" cy="430.1" r="3"/>
<circle cx="879.7" cy="430.1" r="3"/>
<circle cx="879.7" cy="419.2" r="3"/>
<circle cx="884.5" cy="430.1" r="3"/>
<circle cx="885.4" cy="430.1" r="3"/>
<circle cx="885.6" cy="446.9" r="3"/>
<circle cx="887.0" cy="436.7" r="3"/>
<circle cx="886.7" cy="432.3" r="3"/>
<circle cx="888.9" cy="441.1" r="3"/>
<circle cx="892.7" cy="421.4" r="3"/>
<circle cx="891.5" cy="434.5" r="3"/>
<circle cx="896.1" cy="430.1" r="3"/>
<circle cx="896.9" cy="419.2" r="3"/>
<circle cx="894.4" cy="417.0" r="3"/>
<circle cx="900.4" cy="417.0" r="3"/>
<circle cx="898.0" cy="408.2" r="3"/>
<circle cx="901.8" cy="388.5" r="3"/>
<circle cx="898.9" cy="410.4" r="3"/>
<circle cx="902.0" cy="399.4" r="3"/>
<circle cx="905.0" cy="397.2" r="3"/>
<circle cx="902.3" cy="410.4" r="3"/>
<circle cx="906.7" cy="428.0" r="3"/>
<circle cx="904.8" cy="414.8" r="3"/>
<circle cx="904.7" cy="423.6" r="3"/>
<circle cx="906.2" cy="417.0" r="3"/>
<circle cx="910.2" cy="434.5" r="3"/>
<circle cx="908.3" cy="432.3" r="3"/>
<circle cx="906.4" cy="412.6" r="3"/>
<circle cx="908.5" cy="425.8" r="3"/>
<circle cx="911.1" cy="428.0" r="3"/>
<circle cx="916.6" cy="419.2" r="3"/>
<circle cx="917.4" cy="423.6" r="3"/>
<circle cx="913.9" cy="425.8" r="3"/>
<circle cx="916.2" cy="425.8" r="3"/>
<circle cx="919.7" cy="430.1" r="3"/>
<circle cx="921.3" cy="423.6" r="3"/>
<circle cx="921.8" cy="428.0" r="3"/>
<circle cx="924.1" cy="432.3" r="3"/>
<circle cx="922.9" cy="432.3" r="3"/>
<circle cx="928.1" cy="421.4" r="3"/>
<circle cx="928.0" cy="430.1" r="3"/>
<circle cx="925.1" cy="425.8" r="3"/>
<circle cx="929.5" cy="417.0" r="3"/>
<circle cx="932.5" cy="430.1" r="3"/>
<circle cx="929.2" cy="423.6" r="3"/>
<circle cx="930.8" cy="438.9" r="3"/>
<circle cx="930.5" cy="421.4" r="3"/>
<circle cx="932.3" cy="417.0" r="3"/>
<circle cx="935.4" cy="423.6" r="3"/>
<circle cx="937.8" cy="441.1" r="3"/>
<circle cx="935.2" cy="419.2" r="3"/>
<circle cx="938.2" cy="436.7" r="3"/>
<circle cx="941.6" cy="441.1" r="3"/>
<circle cx="941.7" cy="438.9" r="3"/>
<circle cx="943.3" cy="438.9" r="3"/>
<circle cx="944.1" cy="445.5" r="3"/>
<circle cx="946.3" cy="436.7" r="3"/>
<circle cx="949.1" cy="428.0" r="3"/>
<circle cx="948.9" cy="432.3" r="3"/>
<circle cx="954.1" cy="432.3" r="3"/>
<circle cx="955.6" cy="423.6" r="3"/>
<circle cx="952.7" cy="423.6" r="3"/>
<circle cx="954.1" cy="428.0" r="3"/>
<circle cx="953.7" cy="425.8" r="3"/>
<circle cx="958.4" cy="419.2" r="3"/>
<circle cx="963.7" cy="428.0" r="3"/>
<circle cx="962.8" cy="417.0" r="3"/>
<circle cx="962.0" cy="417.0" r="3"/>
<circle cx="964.9" cy="414.8" r="3"/>
<circle cx="963.0" cy="423.6" r="3"/>
<circle cx="965.2" cy="410.4" r="3"/>
<circle cx="968.8" cy="357.7" r="3"/>
<circle cx="968.0" cy="379.7" r="3"/>
<circle cx="966.0" cy="397.2" r="3"/>
<circle cx="968.8" cy="432.3" r="3"/>
<circle cx="966.6" cy="432.3" r="3"/>
<circle cx="970.0" cy="379.7" r="3"/>
<circle cx="972.9" cy="430.1" r="3"/>
<circle cx="971.3" cy="419.2" r="3"/>
<circle cx="969.2" cy="408.2" r="3"/>
<circle cx="974.6" cy="434.5" r="3"/>
<circle cx="975.8" cy="428.0" r="3"/>
<circle cx="973.3" cy="425.8" r="3"/>
<circle cx="977.0" cy="436.7" r="3"/>
<circle cx="977.9" cy="430.1" r="3"/>
<circle cx="983.4" cy="430.1" r="3"/>
<circle cx="978.9" cy="428.0" r="3"/>
<circle cx="984.2" cy="425.8" r="3"/>
<circle cx="982.4" cy="443.3" r="3"/>
<circle cx="982.5" cy="423.6" r="3"/>
<circle cx="986.8" cy="417.0" r="3"/>
<circle cx="984.1" cy="421.4" r="3"/>
<circle cx="986.8" cy="403.8" r="3"/>
<circle cx="983.8" cy="419.2" r="3"/>
<circle cx="984.6" cy="428.0" r="3"/>
<circle cx="988.3" cy="414.8" r="3"/>
<circle cx="988.1" cy="408.2" r="3"/>
<circle cx="988.6" cy="425.8" r="3"/>
<circle cx="987.7" cy="417.0" r="3"/>
<circle cx="991.3" cy="414.8" r="3"/>
<circle cx="991.1" cy="419.2" r="3"/>
<circle cx="991.0" cy="410.4" r="3"/>
<circle cx="990.2" cy="430.1" r="3"/>
<circle cx="990.8" cy="408.2" r="3"/>
<circle cx="992.5" cy="410.4" r="3"/>
<circle cx="996.4" cy="419.2" r="3"/>
<circle cx="995.0" cy="386.3" r="3"/>
<circle cx="997.2" cy="425.8" r="3"/>
<circle cx="998.2" cy="408.2" r="3"/>
<circle cx="998.2" cy="412.6" r="3"/>
<circle cx="996.5" cy="406.0" r="3"/>
<circle cx="997.9" cy="419.2" r="3"/>
<circle cx="1023.5" cy="446.9" r="3"/>
<circle cx="1026.6" cy="410.4" r="3"/>
<circle cx="1024.8" cy="401.6" r="3"/>
<circle cx="1025.8" cy="428.0" r="3"/>
<circle cx="1028.0" cy="392.8" r="3"/>
<circle cx="1027.3" cy="412.6" r="3"/>
<circle cx="1027.6" cy="436.7" r="3"/>
<circle cx="1030.5" cy="403.8" r="3"/>
<circle cx="1029.0" cy="417.0" r="3"/>
<circle cx="1030.9" cy="412.6" r="3"/>
<circle cx="1029.4" cy="417.0" r="3"/>
<circle cx="1029.7" cy="423.6" r="3"/>
<circle cx="1033.0" cy="428.0" r="3"/>
<circle cx="1036.0" cy="430.1" r="3"/>
<circle cx="1033.3" cy="419.2" r="3"/>
<circle cx="1035.0" cy="423.6" r="3"/>
<circle cx="1040.1" cy="434.5" r="3"/>
<circle cx="1039.0" cy="428.0" r="3"/>
<circle cx="1038.3" cy="425.8" r="3"/>
<circle cx="1043.2" cy="434.5" r="3"/>
<circle cx="1043.8" cy="428.0" r="3"/>
<circle cx="1041.0" cy="434.5" r="3"/>
<circle cx="1042.3" cy="428.0" r="3"/>
<circle cx="1047.5" cy="432.3" r="3"/>
<circle cx="1048.1" cy="425.8" r="3"/>
<circle cx="1046.2" cy="428.0" r="3"/>
<circle cx="1054.3" cy="414.8" r="3"/>
<circle cx="1049.4" cy="432.3" r="3"/>
<circle cx="1055.4" cy="430.1" r="3"/>
<circle cx="1056.0" cy="401.6" r="3"/>
<circle cx="1051.8" cy="421.4" r="3"/>
<circle cx="1056.0" cy="406.0" r="3"/>
<circle cx="1056.1" cy="417.0" r="3"/>
<circle cx="1058.0" cy="392.8" r="3"/>
<circle cx="1057.2" cy="403.8" r="3"/>
<circle cx="1058.8" cy="438.9" r="3"/>
<circle cx="1059.3" cy="414.8" r="3"/>
<circle cx="1061.6" cy="432.3" r="3"/>
<circle cx="1059.2" cy="399.4" r="3"/>
<circle cx="1064.9" cy="434.5" r="3"/>
<circle cx="1062.0" cy="428.0" r="3"/>
<circle cx="1066.4" cy="428.0" r="3"/>
<circle cx="1066.0" cy="441.1" r="3"/>
<circle cx="1068.8" cy="414.8" r="3"/>
<circle cx="1069.9" cy="432.3" r="3"/>
<circle cx="1072.3" cy="438.9" r="3"/>
<circle cx="1073.6" cy="438.9" r="3"/>
<circle cx="1071.9" cy="432.3" r="3"/>
<circle cx="1074.8" cy="432.3" r="3"/>
<circle cx="1076.1" cy="436.7" r="3"/>
<circle cx="1079.1" cy="432.3" r="3"/>
<circle cx="1075.5" cy="438.9" r="3"/>
<circle cx="1083.8" cy="419.2" r="3"/>
<circle cx="1081.2" cy="430.1" r="3"/>
<circle cx="1079.3" cy="434.5" r="3"/>
<circle cx="1082.6" cy="423.6" r="3"/>
<circle cx="1082.9" cy="432.3" r="3"/>
<circle cx="1086.2" cy="419.2" r="3"/>
<circle cx="1086.1" cy="421.4" r="3"/>
<circle cx="1083.7" cy="425.8" r="3"/>
<circle cx="1088.0" cy="423.6" r="3"/>
<circle cx="1086.3" cy="430.1" r="3"/>
<circle cx="1089.0" cy="428.0" r="3"/>
<circle cx="1091.1" cy="423.6" r="3"/>
<circle cx="1089.9" cy="419.2" r="3"/>
<circle cx="1092.7" cy="423.6" r="3"/>
<circle cx="1094.9" cy="425.8" r="3"/>
<circle cx="1099.8" cy="432.3" r="3"/>
<circle cx="1097.7" cy="428.0" r="3"/>
<circle cx="1100.3" cy="434.5" r="3"/>
<circle cx="1103.0" cy="432.3" r="3"/>
<circle cx="1102.3" cy="430.1" r="3"/>
<circle cx="1100.4" cy="438.9" r="3"/>
<circle cx="1101.3" cy="432.3" r="3"/>
<circle cx="1108.0" cy="434.5" r="3"/>
<circle cx="1107.2" cy="430.1" r="3"/>
<circle cx="1108.9" cy="430.1" r="3"/>
<circle cx="1106.4" cy="434.5" r="3"/>
<circle cx="1111.0" cy="432.3" r="3"/>
<circle cx="1113.4" cy="430.1" r="3"/>
<circle cx="1116.8" cy="408.2" r="3"/>
<circle cx="1114.2" cy="434.5" r="3"/>
<circle cx="1114.9" cy="425.8" r="3"/>
<circle cx="1117.1" cy="421.4" r="3"/>
<circle cx="1117.9" cy="430.1" r="3"/>
<circle cx="1119.4" cy="417.0" r="3"/>
<circle cx="1121.1" cy="428.0" r="3"/>
<circle cx="1119.8" cy="410.4" r="3"/>
<circle cx="1117.2" cy="414.8" r="3"/>
<circle cx="1122.7" cy="408.2" r="3"/>
<circle cx="1124.5" cy="445.5" r="3"/>
<circle cx="1124.5" cy="412.6" r="3"/>
<circle cx="1126.3" cy="414.8" r="3"/>
<circle cx="1129.6" cy="430.1" r="3"/>
<circle cx="1130.7" cy="441.1" r="3"/>
<circle cx="1126.8" cy="401.6" r="3"/>
<circle cx="1126.8" cy="392.8" r="3"/>
<circle cx="1129.2" cy="434.5" r="3"/>
<circle cx="1132.9" cy="438.9" r="3"/>
<circle cx="1131.5" cy="436.7" r="3"/>
<circle cx="1135.0" cy="434.5" r="3"/>
<circle cx="1135.8" cy="436.7" r="3"/>
<circle cx="1137.7" cy="432.3" r="3"/>
<circle cx="1141.2" cy="425.8" r="3"/>
<circle cx="1136.7" cy="438.9" r="3"/>
<circle cx="1142.3" cy="425.8" r="3"/>
<circle cx="1145.2" cy="436.7" r="3"/>
<circle cx="1144.1" cy="419.2" r="3"/>
<circle cx="1145.9" cy="419.2" r="3"/>
<circle cx="1148.2" cy="425.8" r="3"/>
<circle cx="1147.4" cy="430.1" r="3"/>
<circle cx="1144.9" cy="445.5" r="3"/>
<circle cx="1147.7" cy="421.4" r="3"/>
</g>
<path d="M90 432H1160" stroke="#008000" stroke-width="2" stroke-dasharray="6,2" fill="none"/>
<text x="585" y="24.8" text-anchor="middle" font-size="19.57" fill="#333333">JARDIN BOTANIQUE SULPHUR DIOXIDE</text>
<text x="585" y="47" text-anchor="middle" font-size="11.61" fill="#555555">Click and drag in the plot area to zoom in</text>
<text transform="translate(31.8,255) rotate(-90)" text-anchor="middle" font-size="19" fill="#151515">Measurements (ppb)</text>
<g font-size="14" fill="#484848" text-anchor="end">
<text x="75" y="68.8">175</text>
<text x="75" y="123.5">150</text>
<text x="75" y="178.2">125</text>
<text x="75" y="232.9">100</text>
<text x="75" y="287.6">75</text>
<text x="75" y="342.3">50</text>
<text x="75" y="397.0">25</text>
<text x="75" y="451.7">0</text>
</g>
<g font-size="13.94" fill="#484848" letter-spacing="0.7">
<text transform="translate(126.7,460.4) rotate(70)">1976-01-01</text>
<text transform="translate(188.4,460.4) rotate(70)">1978-01-01</text>
<text transform="translate(250.0,460.4) rotate(70)">1980-01-01</text>
<text transform="translate(311.7,460.4) rotate(70)">1982-01-01</text>
<text transform="translate(373.4,460.4) rotate(70)">1984-01-01</text>
<text transform="translate(435.1,460.4) rotate(70)">1986-01-01</text>
<text transform="translate(496.8,460.4) rotate(70)">1988-01-01</text>
<text transform="translate(558.4,460.4) rotate(70)">1990-01-01</text>
<text transform="translate(620.1,460.4) rotate(70)">1992-01-01</text>
<text transform="translate(681.8,460.4) rotate(70)">1994-01-01</text>
<text transform="translate(743.5,460.4) rotate(70)">1996-01-01</text>
<text transform="translate(805.1,460.4) rotate(70)">1998-01-01</text>
<text transform="translate(866.8,460.4) rotate(70)">2000-01-01</text>
<text transform="translate(928.5,460.4) rotate(70)">2002-01-01</text>
<text transform="translate(990.1,460.4) rotate(70)">2004-01-01</text>
<text transform="translate(1051.8,460.4) rotate(70)">2006-01-01</text>
<text transform="translate(1113.5,460.4) rotate(70)">2008-01-01</text>
</g>
<circle cx="517.9" cy="571.7" r="3" fill="#3f9214" stroke="#84b509" stroke-width="2"/>
<text x="531" y="576" font-size="13" font-weight="bold" fill="#333333" style="font-family:'Liberation Sans','DejaVu Sans',sans-serif">JARDIN BOTANIQUE</text>
<text x="1160" y="594.8" text-anchor="end" font-size="9.55" fill="#909090">Highcharts.com</text>
</svg></body></html>
